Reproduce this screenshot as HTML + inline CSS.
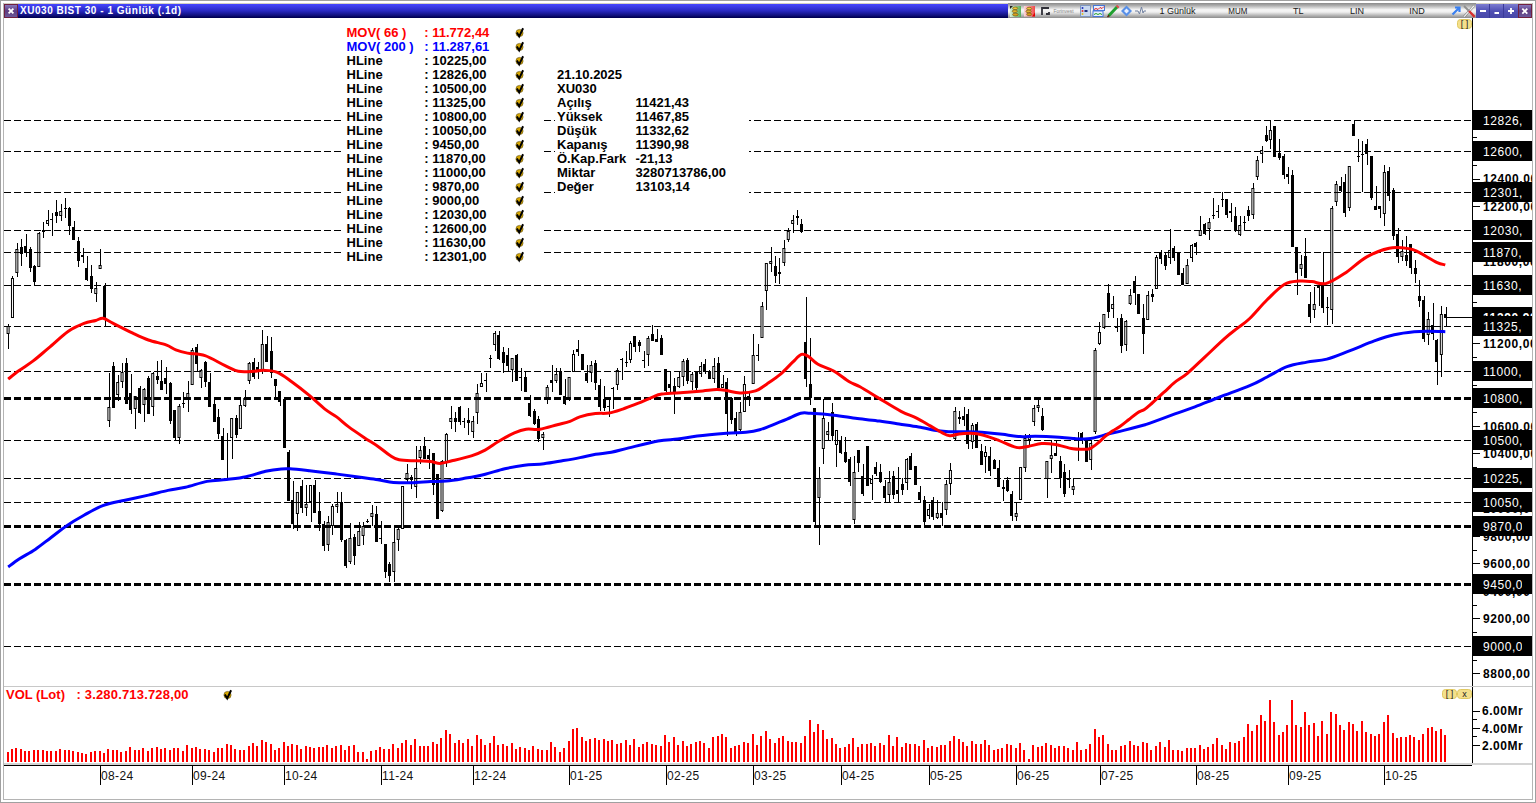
<!DOCTYPE html>
<html><head><meta charset="utf-8"><title>XU030</title>
<style>
html,body{margin:0;padding:0;background:#fff;}
body{width:1536px;height:803px;overflow:hidden;position:relative;}
svg.main{position:absolute;left:0;top:0;}
</style></head><body>
<svg class="main" width="1536" height="803" viewBox="0 0 1536 803">
<rect x="0.5" y="0.5" width="1535" height="802" fill="none" stroke="#a0a0a0"/>
<rect x="3" y="3" width="1530" height="1" fill="#d4d0c4"/>
<rect x="3" y="3" width="1" height="797" fill="#b4b4b4"/>
<rect x="1532" y="3" width="1" height="797" fill="#b4b4b4"/>
<rect x="3" y="799" width="1530" height="1" fill="#b4b4b4"/>
<g fill="#000" shape-rendering="crispEdges"><rect x="8" y="324" width="1" height="2"/><rect x="8" y="334" width="1" height="15"/><rect x="12" y="276" width="1" height="2"/><rect x="17" y="243" width="1" height="6"/><rect x="17" y="273" width="1" height="4"/><rect x="21" y="239" width="1" height="27"/><rect x="20" y="247" width="3" height="7"/><rect x="26" y="234" width="1" height="23"/><rect x="24" y="246" width="3" height="7"/><rect x="30" y="247" width="1" height="25"/><rect x="29" y="249" width="3" height="19"/><rect x="34" y="265" width="1" height="20"/><rect x="33" y="266" width="3" height="16"/><rect x="39" y="232" width="1" height="1"/><rect x="43" y="222" width="1" height="16"/><rect x="42" y="230" width="3" height="2"/><rect x="48" y="210" width="1" height="10"/><rect x="48" y="224" width="1" height="2"/><rect x="52" y="213" width="1" height="23"/><rect x="50" y="219" width="3" height="1"/><rect x="56" y="200" width="1" height="23"/><rect x="55" y="212" width="3" height="4"/><rect x="61" y="204" width="1" height="7"/><rect x="61" y="216" width="1" height="5"/><rect x="65" y="198" width="1" height="20"/><rect x="64" y="208" width="3" height="1"/><rect x="69" y="207" width="1" height="28"/><rect x="68" y="208" width="3" height="18"/><rect x="74" y="221" width="1" height="19"/><rect x="72" y="227" width="3" height="13"/><rect x="78" y="237" width="1" height="30"/><rect x="77" y="241" width="3" height="20"/><rect x="83" y="248" width="1" height="15"/><rect x="81" y="255" width="3" height="2"/><rect x="87" y="256" width="1" height="25"/><rect x="85" y="268" width="3" height="12"/><rect x="91" y="265" width="1" height="28"/><rect x="90" y="276" width="3" height="13"/><rect x="96" y="282" width="1" height="6"/><rect x="96" y="294" width="1" height="8"/><rect x="100" y="249" width="1" height="16"/><rect x="105" y="283" width="1" height="43"/><rect x="103" y="286" width="3" height="32"/><rect x="109" y="373" width="1" height="34"/><rect x="109" y="421" width="1" height="6"/><rect x="113" y="362" width="1" height="46"/><rect x="112" y="366" width="3" height="42"/><rect x="118" y="375" width="1" height="7"/><rect x="118" y="395" width="1" height="6"/><rect x="122" y="363" width="1" height="9"/><rect x="122" y="382" width="1" height="6"/><rect x="126" y="358" width="1" height="46"/><rect x="125" y="363" width="3" height="41"/><rect x="131" y="374" width="1" height="40"/><rect x="129" y="393" width="3" height="17"/><rect x="135" y="409" width="1" height="20"/><rect x="140" y="386" width="1" height="28"/><rect x="138" y="388" width="3" height="25"/><rect x="144" y="388" width="1" height="1"/><rect x="144" y="405" width="1" height="17"/><rect x="148" y="376" width="1" height="38"/><rect x="147" y="378" width="3" height="36"/><rect x="153" y="372" width="1" height="1"/><rect x="153" y="407" width="1" height="9"/><rect x="157" y="361" width="1" height="23"/><rect x="156" y="376" width="3" height="4"/><rect x="161" y="360" width="1" height="30"/><rect x="160" y="381" width="3" height="9"/><rect x="166" y="367" width="1" height="27"/><rect x="164" y="378" width="3" height="6"/><rect x="170" y="382" width="1" height="42"/><rect x="169" y="383" width="3" height="38"/><rect x="175" y="410" width="1" height="30"/><rect x="173" y="410" width="3" height="28"/><rect x="179" y="404" width="1" height="2"/><rect x="179" y="438" width="1" height="6"/><rect x="183" y="392" width="1" height="16"/><rect x="182" y="403" width="3" height="1"/><rect x="188" y="381" width="1" height="12"/><rect x="188" y="400" width="1" height="12"/><rect x="192" y="348" width="1" height="2"/><rect x="197" y="344" width="1" height="27"/><rect x="195" y="347" width="3" height="17"/><rect x="201" y="369" width="1" height="1"/><rect x="201" y="378" width="1" height="10"/><rect x="205" y="361" width="1" height="26"/><rect x="204" y="362" width="3" height="20"/><rect x="210" y="373" width="1" height="34"/><rect x="208" y="382" width="3" height="25"/><rect x="214" y="399" width="1" height="23"/><rect x="213" y="404" width="3" height="18"/><rect x="218" y="409" width="1" height="30"/><rect x="217" y="417" width="3" height="17"/><rect x="223" y="428" width="1" height="32"/><rect x="221" y="436" width="3" height="24"/><rect x="227" y="433" width="1" height="45"/><rect x="226" y="440" width="3" height="1"/><rect x="232" y="438" width="1" height="21"/><rect x="236" y="415" width="1" height="23"/><rect x="235" y="418" width="3" height="17"/><rect x="240" y="400" width="1" height="5"/><rect x="245" y="390" width="1" height="8"/><rect x="245" y="406" width="1" height="1"/><rect x="249" y="362" width="1" height="1"/><rect x="249" y="381" width="1" height="3"/><rect x="254" y="358" width="1" height="21"/><rect x="252" y="362" width="3" height="15"/><rect x="258" y="362" width="1" height="17"/><rect x="256" y="367" width="3" height="4"/><rect x="262" y="330" width="1" height="14"/><rect x="262" y="371" width="1" height="3"/><rect x="267" y="336" width="1" height="26"/><rect x="265" y="344" width="3" height="18"/><rect x="271" y="337" width="1" height="41"/><rect x="270" y="351" width="3" height="22"/><rect x="275" y="379" width="1" height="19"/><rect x="274" y="379" width="3" height="7"/><rect x="280" y="391" width="1" height="15"/><rect x="278" y="391" width="3" height="11"/><rect x="284" y="399" width="1" height="49"/><rect x="283" y="399" width="3" height="49"/><rect x="289" y="450" width="1" height="51"/><rect x="287" y="452" width="3" height="49"/><rect x="293" y="481" width="1" height="48"/><rect x="291" y="500" width="3" height="24"/><rect x="297" y="514" width="1" height="17"/><rect x="302" y="480" width="1" height="33"/><rect x="300" y="486" width="3" height="22"/><rect x="306" y="485" width="1" height="19"/><rect x="306" y="508" width="1" height="8"/><rect x="311" y="502" width="1" height="20"/><rect x="315" y="480" width="1" height="33"/><rect x="313" y="485" width="3" height="28"/><rect x="319" y="492" width="1" height="39"/><rect x="318" y="511" width="3" height="13"/><rect x="324" y="521" width="1" height="30"/><rect x="322" y="524" width="3" height="22"/><rect x="328" y="516" width="1" height="6"/><rect x="328" y="545" width="1" height="6"/><rect x="332" y="504" width="1" height="2"/><rect x="332" y="526" width="1" height="9"/><rect x="337" y="492" width="1" height="12"/><rect x="337" y="507" width="1" height="6"/><rect x="341" y="492" width="1" height="50"/><rect x="340" y="502" width="3" height="38"/><rect x="346" y="539" width="1" height="29"/><rect x="344" y="540" width="3" height="26"/><rect x="350" y="523" width="1" height="15"/><rect x="350" y="562" width="1" height="2"/><rect x="354" y="534" width="1" height="31"/><rect x="353" y="537" width="3" height="19"/><rect x="359" y="522" width="1" height="9"/><rect x="363" y="522" width="1" height="4"/><rect x="363" y="536" width="1" height="9"/><rect x="367" y="519" width="1" height="4"/><rect x="366" y="521" width="3" height="1"/><rect x="372" y="505" width="1" height="8"/><rect x="372" y="517" width="1" height="9"/><rect x="376" y="506" width="1" height="36"/><rect x="375" y="514" width="3" height="28"/><rect x="381" y="521" width="1" height="23"/><rect x="379" y="538" width="3" height="1"/><rect x="385" y="544" width="1" height="34"/><rect x="384" y="544" width="3" height="28"/><rect x="389" y="562" width="1" height="20"/><rect x="388" y="564" width="3" height="12"/><rect x="394" y="528" width="1" height="14"/><rect x="394" y="572" width="1" height="10"/><rect x="398" y="528" width="1" height="1"/><rect x="398" y="540" width="1" height="11"/><rect x="407" y="464" width="1" height="9"/><rect x="407" y="480" width="1" height="3"/><rect x="411" y="475" width="1" height="14"/><rect x="410" y="477" width="3" height="3"/><rect x="416" y="446" width="1" height="22"/><rect x="416" y="487" width="1" height="11"/><rect x="420" y="446" width="1" height="4"/><rect x="420" y="458" width="1" height="6"/><rect x="424" y="437" width="1" height="22"/><rect x="423" y="446" width="3" height="13"/><rect x="429" y="449" width="1" height="20"/><rect x="427" y="455" width="3" height="4"/><rect x="433" y="453" width="1" height="42"/><rect x="432" y="453" width="3" height="32"/><rect x="438" y="474" width="1" height="45"/><rect x="436" y="474" width="3" height="45"/><rect x="442" y="460" width="1" height="1"/><rect x="442" y="511" width="1" height="1"/><rect x="446" y="433" width="1" height="1"/><rect x="446" y="463" width="1" height="4"/><rect x="451" y="406" width="1" height="12"/><rect x="451" y="422" width="1" height="7"/><rect x="455" y="412" width="1" height="20"/><rect x="454" y="418" width="3" height="4"/><rect x="460" y="406" width="1" height="19"/><rect x="458" y="407" width="3" height="15"/><rect x="464" y="418" width="1" height="10"/><rect x="462" y="421" width="3" height="1"/><rect x="468" y="408" width="1" height="27"/><rect x="467" y="420" width="3" height="3"/><rect x="473" y="416" width="1" height="5"/><rect x="473" y="432" width="1" height="6"/><rect x="477" y="384" width="1" height="9"/><rect x="477" y="413" width="1" height="11"/><rect x="481" y="373" width="1" height="10"/><rect x="486" y="373" width="1" height="19"/><rect x="484" y="380" width="3" height="1"/><rect x="490" y="355" width="1" height="13"/><rect x="489" y="358" width="3" height="1"/><rect x="495" y="331" width="1" height="2"/><rect x="495" y="345" width="1" height="6"/><rect x="499" y="331" width="1" height="29"/><rect x="497" y="335" width="3" height="24"/><rect x="503" y="347" width="1" height="26"/><rect x="502" y="352" width="3" height="11"/><rect x="508" y="348" width="1" height="23"/><rect x="506" y="355" width="3" height="11"/><rect x="512" y="370" width="1" height="12"/><rect x="517" y="354" width="1" height="27"/><rect x="515" y="355" width="3" height="26"/><rect x="521" y="368" width="1" height="23"/><rect x="519" y="377" width="3" height="1"/><rect x="525" y="371" width="1" height="21"/><rect x="524" y="377" width="3" height="15"/><rect x="530" y="395" width="1" height="22"/><rect x="528" y="403" width="3" height="13"/><rect x="534" y="409" width="1" height="16"/><rect x="533" y="411" width="3" height="13"/><rect x="538" y="416" width="1" height="26"/><rect x="537" y="419" width="3" height="20"/><rect x="543" y="432" width="1" height="2"/><rect x="543" y="438" width="1" height="12"/><rect x="547" y="385" width="1" height="2"/><rect x="547" y="399" width="1" height="5"/><rect x="552" y="365" width="1" height="27"/><rect x="550" y="380" width="3" height="3"/><rect x="556" y="368" width="1" height="6"/><rect x="556" y="381" width="1" height="2"/><rect x="560" y="368" width="1" height="27"/><rect x="559" y="371" width="3" height="24"/><rect x="565" y="379" width="1" height="26"/><rect x="563" y="396" width="3" height="8"/><rect x="569" y="399" width="1" height="2"/><rect x="573" y="350" width="1" height="4"/><rect x="578" y="340" width="1" height="16"/><rect x="576" y="349" width="3" height="3"/><rect x="582" y="354" width="1" height="16"/><rect x="581" y="354" width="3" height="16"/><rect x="587" y="365" width="1" height="18"/><rect x="585" y="373" width="3" height="8"/><rect x="591" y="361" width="1" height="4"/><rect x="591" y="373" width="1" height="9"/><rect x="595" y="360" width="1" height="30"/><rect x="594" y="363" width="3" height="20"/><rect x="600" y="379" width="1" height="32"/><rect x="598" y="385" width="3" height="22"/><rect x="604" y="386" width="1" height="25"/><rect x="603" y="399" width="3" height="9"/><rect x="609" y="397" width="1" height="20"/><rect x="607" y="406" width="3" height="1"/><rect x="613" y="387" width="1" height="22"/><rect x="611" y="388" width="3" height="1"/><rect x="617" y="368" width="1" height="2"/><rect x="617" y="385" width="1" height="5"/><rect x="622" y="358" width="1" height="22"/><rect x="620" y="359" width="3" height="1"/><rect x="626" y="351" width="1" height="16"/><rect x="625" y="362" width="3" height="1"/><rect x="630" y="341" width="1" height="2"/><rect x="630" y="360" width="1" height="3"/><rect x="635" y="336" width="1" height="16"/><rect x="633" y="336" width="3" height="11"/><rect x="639" y="340" width="1" height="12"/><rect x="638" y="342" width="3" height="4"/><rect x="644" y="351" width="1" height="17"/><rect x="642" y="360" width="3" height="1"/><rect x="648" y="336" width="1" height="2"/><rect x="648" y="355" width="1" height="11"/><rect x="652" y="325" width="1" height="16"/><rect x="651" y="334" width="3" height="7"/><rect x="657" y="329" width="1" height="13"/><rect x="655" y="339" width="3" height="3"/><rect x="661" y="335" width="1" height="20"/><rect x="660" y="338" width="3" height="17"/><rect x="666" y="369" width="1" height="23"/><rect x="664" y="369" width="3" height="22"/><rect x="670" y="371" width="1" height="21"/><rect x="668" y="384" width="3" height="4"/><rect x="674" y="378" width="1" height="36"/><rect x="673" y="386" width="3" height="8"/><rect x="679" y="372" width="1" height="5"/><rect x="679" y="387" width="1" height="1"/><rect x="683" y="359" width="1" height="2"/><rect x="683" y="377" width="1" height="9"/><rect x="687" y="358" width="1" height="26"/><rect x="686" y="360" width="3" height="21"/><rect x="692" y="372" width="1" height="2"/><rect x="692" y="382" width="1" height="8"/><rect x="696" y="371" width="1" height="19"/><rect x="695" y="372" width="3" height="16"/><rect x="701" y="362" width="1" height="4"/><rect x="701" y="374" width="1" height="3"/><rect x="705" y="359" width="1" height="15"/><rect x="703" y="364" width="3" height="8"/><rect x="709" y="370" width="1" height="9"/><rect x="708" y="371" width="3" height="8"/><rect x="714" y="358" width="1" height="8"/><rect x="714" y="379" width="1" height="4"/><rect x="718" y="357" width="1" height="31"/><rect x="717" y="363" width="3" height="25"/><rect x="723" y="375" width="1" height="9"/><rect x="727" y="378" width="1" height="58"/><rect x="725" y="382" width="3" height="32"/><rect x="731" y="397" width="1" height="27"/><rect x="730" y="398" width="3" height="22"/><rect x="736" y="412" width="1" height="24"/><rect x="734" y="418" width="3" height="14"/><rect x="740" y="402" width="1" height="10"/><rect x="740" y="430" width="1" height="1"/><rect x="744" y="376" width="1" height="8"/><rect x="749" y="393" width="1" height="13"/><rect x="747" y="396" width="3" height="4"/><rect x="753" y="334" width="1" height="21"/><rect x="758" y="344" width="1" height="17"/><rect x="756" y="355" width="3" height="1"/><rect x="762" y="302" width="1" height="4"/><rect x="766" y="291" width="1" height="19"/><rect x="771" y="247" width="1" height="14"/><rect x="771" y="264" width="1" height="8"/><rect x="775" y="256" width="1" height="27"/><rect x="774" y="266" width="3" height="10"/><rect x="779" y="258" width="1" height="26"/><rect x="778" y="272" width="3" height="2"/><rect x="784" y="240" width="1" height="8"/><rect x="784" y="263" width="1" height="3"/><rect x="788" y="228" width="1" height="3"/><rect x="788" y="240" width="1" height="2"/><rect x="793" y="215" width="1" height="5"/><rect x="793" y="224" width="1" height="9"/><rect x="797" y="210" width="1" height="15"/><rect x="796" y="216" width="3" height="2"/><rect x="801" y="219" width="1" height="14"/><rect x="800" y="224" width="3" height="8"/><rect x="806" y="297" width="1" height="90"/><rect x="804" y="342" width="3" height="37"/><rect x="810" y="338" width="1" height="67"/><rect x="809" y="384" width="3" height="14"/><rect x="815" y="408" width="1" height="118"/><rect x="813" y="408" width="3" height="114"/><rect x="819" y="467" width="1" height="11"/><rect x="819" y="498" width="1" height="47"/><rect x="823" y="399" width="1" height="19"/><rect x="823" y="449" width="1" height="15"/><rect x="828" y="422" width="1" height="9"/><rect x="828" y="435" width="1" height="6"/><rect x="832" y="403" width="1" height="38"/><rect x="831" y="412" width="3" height="24"/><rect x="836" y="445" width="1" height="22"/><rect x="841" y="436" width="1" height="18"/><rect x="839" y="440" width="3" height="13"/><rect x="845" y="437" width="1" height="26"/><rect x="844" y="452" width="3" height="10"/><rect x="850" y="457" width="1" height="29"/><rect x="848" y="459" width="3" height="23"/><rect x="854" y="456" width="1" height="16"/><rect x="854" y="520" width="1" height="4"/><rect x="858" y="450" width="1" height="22"/><rect x="857" y="450" width="3" height="13"/><rect x="863" y="464" width="1" height="32"/><rect x="861" y="476" width="3" height="18"/><rect x="867" y="446" width="1" height="40"/><rect x="866" y="446" width="3" height="40"/><rect x="872" y="475" width="1" height="4"/><rect x="872" y="484" width="1" height="16"/><rect x="876" y="462" width="1" height="14"/><rect x="874" y="467" width="3" height="7"/><rect x="880" y="464" width="1" height="19"/><rect x="879" y="472" width="3" height="10"/><rect x="885" y="480" width="1" height="22"/><rect x="883" y="486" width="3" height="12"/><rect x="889" y="471" width="1" height="11"/><rect x="889" y="495" width="1" height="7"/><rect x="893" y="471" width="1" height="28"/><rect x="892" y="476" width="3" height="19"/><rect x="898" y="467" width="1" height="36"/><rect x="896" y="490" width="3" height="4"/><rect x="902" y="478" width="1" height="17"/><rect x="901" y="484" width="3" height="6"/><rect x="907" y="458" width="1" height="1"/><rect x="907" y="483" width="1" height="7"/><rect x="911" y="453" width="1" height="17"/><rect x="909" y="456" width="3" height="14"/><rect x="915" y="466" width="1" height="19"/><rect x="914" y="466" width="3" height="19"/><rect x="920" y="486" width="1" height="16"/><rect x="918" y="492" width="3" height="8"/><rect x="924" y="496" width="1" height="30"/><rect x="923" y="500" width="3" height="22"/><rect x="929" y="504" width="1" height="5"/><rect x="929" y="516" width="1" height="3"/><rect x="933" y="497" width="1" height="23"/><rect x="931" y="500" width="3" height="17"/><rect x="937" y="500" width="1" height="13"/><rect x="937" y="518" width="1" height="1"/><rect x="942" y="502" width="1" height="24"/><rect x="940" y="513" width="3" height="5"/><rect x="946" y="480" width="1" height="4"/><rect x="946" y="510" width="1" height="5"/><rect x="950" y="463" width="1" height="7"/><rect x="950" y="484" width="1" height="11"/><rect x="955" y="407" width="1" height="4"/><rect x="955" y="439" width="1" height="1"/><rect x="959" y="411" width="1" height="13"/><rect x="958" y="417" width="3" height="2"/><rect x="964" y="407" width="1" height="19"/><rect x="962" y="416" width="3" height="4"/><rect x="968" y="409" width="1" height="40"/><rect x="966" y="414" width="3" height="30"/><rect x="972" y="423" width="1" height="2"/><rect x="972" y="442" width="1" height="7"/><rect x="977" y="422" width="1" height="26"/><rect x="975" y="424" width="3" height="24"/><rect x="981" y="444" width="1" height="21"/><rect x="980" y="451" width="3" height="14"/><rect x="985" y="446" width="1" height="6"/><rect x="985" y="457" width="1" height="16"/><rect x="990" y="447" width="1" height="29"/><rect x="988" y="456" width="3" height="15"/><rect x="994" y="459" width="1" height="10"/><rect x="993" y="460" width="3" height="9"/><rect x="999" y="460" width="1" height="27"/><rect x="997" y="468" width="3" height="19"/><rect x="1003" y="480" width="1" height="21"/><rect x="1002" y="487" width="3" height="2"/><rect x="1007" y="477" width="1" height="15"/><rect x="1006" y="480" width="3" height="11"/><rect x="1012" y="491" width="1" height="30"/><rect x="1010" y="494" width="3" height="22"/><rect x="1016" y="502" width="1" height="11"/><rect x="1016" y="517" width="1" height="4"/><rect x="1025" y="434" width="1" height="4"/><rect x="1025" y="468" width="1" height="4"/><rect x="1029" y="434" width="1" height="1"/><rect x="1029" y="440" width="1" height="6"/><rect x="1034" y="405" width="1" height="3"/><rect x="1034" y="422" width="1" height="4"/><rect x="1038" y="398" width="1" height="7"/><rect x="1038" y="408" width="1" height="4"/><rect x="1042" y="408" width="1" height="23"/><rect x="1041" y="416" width="3" height="14"/><rect x="1047" y="479" width="1" height="19"/><rect x="1051" y="440" width="1" height="15"/><rect x="1051" y="459" width="1" height="14"/><rect x="1056" y="440" width="1" height="16"/><rect x="1054" y="453" width="3" height="3"/><rect x="1060" y="456" width="1" height="32"/><rect x="1059" y="461" width="3" height="17"/><rect x="1064" y="464" width="1" height="33"/><rect x="1063" y="472" width="3" height="22"/><rect x="1069" y="470" width="1" height="18"/><rect x="1067" y="478" width="3" height="2"/><rect x="1073" y="478" width="1" height="8"/><rect x="1073" y="490" width="1" height="5"/><rect x="1078" y="432" width="1" height="29"/><rect x="1076" y="438" width="3" height="2"/><rect x="1082" y="432" width="1" height="12"/><rect x="1080" y="433" width="3" height="8"/><rect x="1086" y="440" width="1" height="22"/><rect x="1085" y="440" width="3" height="22"/><rect x="1091" y="440" width="1" height="3"/><rect x="1091" y="460" width="1" height="10"/><rect x="1095" y="348" width="1" height="2"/><rect x="1095" y="432" width="1" height="2"/><rect x="1099" y="322" width="1" height="10"/><rect x="1099" y="344" width="1" height="1"/><rect x="1104" y="328" width="1" height="1"/><rect x="1108" y="284" width="1" height="34"/><rect x="1107" y="293" width="3" height="19"/><rect x="1113" y="296" width="1" height="8"/><rect x="1113" y="309" width="1" height="9"/><rect x="1117" y="318" width="1" height="14"/><rect x="1115" y="326" width="3" height="2"/><rect x="1121" y="314" width="1" height="39"/><rect x="1120" y="318" width="3" height="28"/><rect x="1126" y="320" width="1" height="1"/><rect x="1126" y="345" width="1" height="6"/><rect x="1130" y="289" width="1" height="6"/><rect x="1130" y="304" width="1" height="1"/><rect x="1135" y="276" width="1" height="29"/><rect x="1133" y="281" width="3" height="12"/><rect x="1139" y="294" width="1" height="20"/><rect x="1137" y="294" width="3" height="20"/><rect x="1143" y="304" width="1" height="50"/><rect x="1142" y="318" width="3" height="16"/><rect x="1148" y="291" width="1" height="4"/><rect x="1152" y="289" width="1" height="13"/><rect x="1151" y="294" width="3" height="3"/><rect x="1156" y="255" width="1" height="2"/><rect x="1161" y="250" width="1" height="14"/><rect x="1159" y="253" width="3" height="6"/><rect x="1165" y="252" width="1" height="18"/><rect x="1164" y="255" width="3" height="11"/><rect x="1170" y="229" width="1" height="21"/><rect x="1170" y="258" width="1" height="6"/><rect x="1174" y="246" width="1" height="15"/><rect x="1172" y="248" width="3" height="10"/><rect x="1178" y="252" width="1" height="23"/><rect x="1177" y="252" width="3" height="23"/><rect x="1183" y="268" width="1" height="17"/><rect x="1181" y="273" width="3" height="12"/><rect x="1187" y="259" width="1" height="6"/><rect x="1192" y="244" width="1" height="1"/><rect x="1192" y="258" width="1" height="4"/><rect x="1196" y="242" width="1" height="13"/><rect x="1194" y="243" width="3" height="4"/><rect x="1200" y="216" width="1" height="14"/><rect x="1205" y="223" width="1" height="12"/><rect x="1203" y="224" width="3" height="10"/><rect x="1209" y="218" width="1" height="4"/><rect x="1209" y="229" width="1" height="11"/><rect x="1213" y="198" width="1" height="21"/><rect x="1212" y="215" width="3" height="1"/><rect x="1218" y="205" width="1" height="13"/><rect x="1216" y="211" width="3" height="1"/><rect x="1222" y="192" width="1" height="15"/><rect x="1221" y="199" width="3" height="1"/><rect x="1227" y="199" width="1" height="19"/><rect x="1225" y="199" width="3" height="16"/><rect x="1231" y="203" width="1" height="19"/><rect x="1229" y="211" width="3" height="2"/><rect x="1235" y="207" width="1" height="25"/><rect x="1234" y="216" width="3" height="15"/><rect x="1240" y="216" width="1" height="9"/><rect x="1240" y="235" width="1" height="1"/><rect x="1244" y="216" width="1" height="14"/><rect x="1243" y="222" width="3" height="1"/><rect x="1248" y="206" width="1" height="15"/><rect x="1247" y="210" width="3" height="6"/><rect x="1253" y="183" width="1" height="5"/><rect x="1253" y="215" width="1" height="4"/><rect x="1257" y="156" width="1" height="4"/><rect x="1257" y="177" width="1" height="3"/><rect x="1262" y="146" width="1" height="4"/><rect x="1262" y="154" width="1" height="9"/><rect x="1266" y="126" width="1" height="16"/><rect x="1265" y="135" width="3" height="6"/><rect x="1270" y="120" width="1" height="10"/><rect x="1270" y="140" width="1" height="9"/><rect x="1275" y="126" width="1" height="31"/><rect x="1273" y="126" width="3" height="31"/><rect x="1279" y="139" width="1" height="21"/><rect x="1278" y="153" width="3" height="5"/><rect x="1284" y="154" width="1" height="25"/><rect x="1282" y="156" width="3" height="19"/><rect x="1288" y="167" width="1" height="17"/><rect x="1286" y="174" width="3" height="3"/><rect x="1292" y="170" width="1" height="77"/><rect x="1291" y="175" width="3" height="72"/><rect x="1297" y="247" width="1" height="48"/><rect x="1295" y="247" width="3" height="26"/><rect x="1301" y="255" width="1" height="9"/><rect x="1301" y="269" width="1" height="7"/><rect x="1305" y="238" width="1" height="40"/><rect x="1304" y="256" width="3" height="22"/><rect x="1310" y="292" width="1" height="31"/><rect x="1308" y="304" width="3" height="13"/><rect x="1314" y="287" width="1" height="17"/><rect x="1314" y="310" width="1" height="8"/><rect x="1319" y="284" width="1" height="22"/><rect x="1317" y="286" width="3" height="2"/><rect x="1323" y="252" width="1" height="61"/><rect x="1321" y="285" width="3" height="23"/><rect x="1327" y="297" width="1" height="28"/><rect x="1326" y="307" width="3" height="1"/><rect x="1332" y="206" width="1" height="2"/><rect x="1332" y="310" width="1" height="14"/><rect x="1336" y="181" width="1" height="3"/><rect x="1336" y="202" width="1" height="4"/><rect x="1341" y="177" width="1" height="15"/><rect x="1339" y="186" width="3" height="5"/><rect x="1345" y="174" width="1" height="43"/><rect x="1343" y="182" width="3" height="31"/><rect x="1349" y="208" width="1" height="3"/><rect x="1354" y="120" width="1" height="16"/><rect x="1352" y="124" width="3" height="12"/><rect x="1358" y="139" width="1" height="23"/><rect x="1357" y="156" width="3" height="1"/><rect x="1362" y="141" width="1" height="51"/><rect x="1361" y="154" width="3" height="1"/><rect x="1367" y="139" width="1" height="26"/><rect x="1365" y="144" width="3" height="10"/><rect x="1371" y="156" width="1" height="44"/><rect x="1370" y="156" width="3" height="42"/><rect x="1376" y="186" width="1" height="24"/><rect x="1374" y="206" width="3" height="4"/><rect x="1380" y="206" width="1" height="12"/><rect x="1378" y="206" width="3" height="3"/><rect x="1384" y="165" width="1" height="7"/><rect x="1384" y="214" width="1" height="12"/><rect x="1389" y="167" width="1" height="34"/><rect x="1387" y="171" width="3" height="25"/><rect x="1393" y="188" width="1" height="52"/><rect x="1392" y="190" width="3" height="46"/><rect x="1398" y="228" width="1" height="35"/><rect x="1396" y="234" width="3" height="23"/><rect x="1402" y="240" width="1" height="11"/><rect x="1402" y="257" width="1" height="4"/><rect x="1406" y="236" width="1" height="30"/><rect x="1405" y="255" width="3" height="6"/><rect x="1411" y="244" width="1" height="30"/><rect x="1409" y="244" width="3" height="24"/><rect x="1415" y="260" width="1" height="23"/><rect x="1414" y="268" width="3" height="6"/><rect x="1419" y="280" width="1" height="27"/><rect x="1418" y="296" width="3" height="5"/><rect x="1424" y="296" width="1" height="46"/><rect x="1422" y="300" width="3" height="39"/><rect x="1428" y="312" width="1" height="7"/><rect x="1428" y="335" width="1" height="10"/><rect x="1433" y="303" width="1" height="37"/><rect x="1431" y="325" width="3" height="9"/><rect x="1437" y="339" width="1" height="46"/><rect x="1435" y="340" width="3" height="22"/><rect x="1441" y="306" width="1" height="8"/><rect x="1441" y="355" width="1" height="22"/><rect x="1446" y="307" width="1" height="19"/><rect x="1444" y="314" width="3" height="4"/></g>
<g><rect x="6.59" y="326" width="3" height="8" fill="#000"/><rect x="7.59" y="327" width="1" height="6" fill="#fff"/><rect x="10.97" y="278" width="3" height="40" fill="#000"/><rect x="11.97" y="279" width="1" height="38" fill="#fff"/><rect x="15.36" y="249" width="3" height="24" fill="#000"/><rect x="16.36" y="250" width="1" height="22" fill="#fff"/><rect x="37.27" y="233" width="3" height="34" fill="#000"/><rect x="38.27" y="234" width="1" height="32" fill="#fff"/><rect x="46.04" y="220" width="3" height="4" fill="#000"/><rect x="47.04" y="221" width="1" height="2" fill="#fff"/><rect x="59.19" y="211" width="3" height="5" fill="#000"/><rect x="60.19" y="212" width="1" height="3" fill="#fff"/><rect x="94.25" y="288" width="3" height="6" fill="#000"/><rect x="95.25" y="289" width="1" height="4" fill="#fff"/><rect x="98.63" y="265" width="3" height="4" fill="#000"/><rect x="99.63" y="266" width="1" height="2" fill="#fff"/><rect x="107.40" y="407" width="3" height="14" fill="#000"/><rect x="108.40" y="408" width="1" height="12" fill="#fff"/><rect x="116.17" y="382" width="3" height="13" fill="#000"/><rect x="117.17" y="383" width="1" height="11" fill="#fff"/><rect x="120.55" y="372" width="3" height="10" fill="#000"/><rect x="121.55" y="373" width="1" height="8" fill="#fff"/><rect x="133.70" y="396" width="3" height="13" fill="#000"/><rect x="134.70" y="397" width="1" height="11" fill="#fff"/><rect x="142.46" y="389" width="3" height="16" fill="#000"/><rect x="143.46" y="390" width="1" height="14" fill="#fff"/><rect x="151.23" y="373" width="3" height="34" fill="#000"/><rect x="152.23" y="374" width="1" height="32" fill="#fff"/><rect x="177.53" y="406" width="3" height="32" fill="#000"/><rect x="178.53" y="407" width="1" height="30" fill="#fff"/><rect x="186.29" y="393" width="3" height="7" fill="#000"/><rect x="187.29" y="394" width="1" height="5" fill="#fff"/><rect x="190.68" y="350" width="3" height="35" fill="#000"/><rect x="191.68" y="351" width="1" height="33" fill="#fff"/><rect x="199.44" y="370" width="3" height="8" fill="#000"/><rect x="200.44" y="371" width="1" height="6" fill="#fff"/><rect x="230.12" y="418" width="3" height="20" fill="#000"/><rect x="231.12" y="419" width="1" height="18" fill="#fff"/><rect x="238.89" y="405" width="3" height="24" fill="#000"/><rect x="239.89" y="406" width="1" height="22" fill="#fff"/><rect x="243.27" y="398" width="3" height="8" fill="#000"/><rect x="244.27" y="399" width="1" height="6" fill="#fff"/><rect x="247.66" y="363" width="3" height="18" fill="#000"/><rect x="248.66" y="364" width="1" height="16" fill="#fff"/><rect x="260.80" y="344" width="3" height="27" fill="#000"/><rect x="261.80" y="345" width="1" height="25" fill="#fff"/><rect x="295.87" y="492" width="3" height="22" fill="#000"/><rect x="296.87" y="493" width="1" height="20" fill="#fff"/><rect x="304.63" y="504" width="3" height="4" fill="#000"/><rect x="305.63" y="505" width="1" height="2" fill="#fff"/><rect x="309.02" y="485" width="3" height="17" fill="#000"/><rect x="310.02" y="486" width="1" height="15" fill="#fff"/><rect x="326.55" y="522" width="3" height="23" fill="#000"/><rect x="327.55" y="523" width="1" height="21" fill="#fff"/><rect x="330.93" y="506" width="3" height="20" fill="#000"/><rect x="331.93" y="507" width="1" height="18" fill="#fff"/><rect x="335.31" y="504" width="3" height="3" fill="#000"/><rect x="336.31" y="505" width="1" height="1" fill="#fff"/><rect x="348.46" y="538" width="3" height="24" fill="#000"/><rect x="349.46" y="539" width="1" height="22" fill="#fff"/><rect x="357.23" y="531" width="3" height="15" fill="#000"/><rect x="358.23" y="532" width="1" height="13" fill="#fff"/><rect x="361.61" y="526" width="3" height="10" fill="#000"/><rect x="362.61" y="527" width="1" height="8" fill="#fff"/><rect x="370.38" y="513" width="3" height="4" fill="#000"/><rect x="371.38" y="514" width="1" height="2" fill="#fff"/><rect x="392.29" y="542" width="3" height="30" fill="#000"/><rect x="393.29" y="543" width="1" height="28" fill="#fff"/><rect x="396.68" y="529" width="3" height="11" fill="#000"/><rect x="397.68" y="530" width="1" height="9" fill="#fff"/><rect x="401.06" y="486" width="3" height="43" fill="#000"/><rect x="402.06" y="487" width="1" height="41" fill="#fff"/><rect x="405.44" y="473" width="3" height="7" fill="#000"/><rect x="406.44" y="474" width="1" height="5" fill="#fff"/><rect x="414.21" y="468" width="3" height="19" fill="#000"/><rect x="415.21" y="469" width="1" height="17" fill="#fff"/><rect x="418.59" y="450" width="3" height="8" fill="#000"/><rect x="419.59" y="451" width="1" height="6" fill="#fff"/><rect x="440.51" y="461" width="3" height="50" fill="#000"/><rect x="441.51" y="462" width="1" height="48" fill="#fff"/><rect x="444.89" y="434" width="3" height="29" fill="#000"/><rect x="445.89" y="435" width="1" height="27" fill="#fff"/><rect x="449.27" y="418" width="3" height="4" fill="#000"/><rect x="450.27" y="419" width="1" height="2" fill="#fff"/><rect x="471.19" y="421" width="3" height="11" fill="#000"/><rect x="472.19" y="422" width="1" height="9" fill="#fff"/><rect x="475.57" y="393" width="3" height="20" fill="#000"/><rect x="476.57" y="394" width="1" height="18" fill="#fff"/><rect x="479.95" y="383" width="3" height="4" fill="#000"/><rect x="480.95" y="384" width="1" height="2" fill="#fff"/><rect x="493.10" y="333" width="3" height="12" fill="#000"/><rect x="494.10" y="334" width="1" height="10" fill="#fff"/><rect x="510.63" y="358" width="3" height="12" fill="#000"/><rect x="511.63" y="359" width="1" height="10" fill="#fff"/><rect x="541.32" y="434" width="3" height="4" fill="#000"/><rect x="542.32" y="435" width="1" height="2" fill="#fff"/><rect x="545.70" y="387" width="3" height="12" fill="#000"/><rect x="546.70" y="388" width="1" height="10" fill="#fff"/><rect x="554.47" y="374" width="3" height="7" fill="#000"/><rect x="555.47" y="375" width="1" height="5" fill="#fff"/><rect x="567.61" y="377" width="3" height="22" fill="#000"/><rect x="568.61" y="378" width="1" height="20" fill="#fff"/><rect x="572.00" y="354" width="3" height="18" fill="#000"/><rect x="573.00" y="355" width="1" height="16" fill="#fff"/><rect x="589.53" y="365" width="3" height="8" fill="#000"/><rect x="590.53" y="366" width="1" height="6" fill="#fff"/><rect x="615.83" y="370" width="3" height="15" fill="#000"/><rect x="616.83" y="371" width="1" height="13" fill="#fff"/><rect x="628.98" y="343" width="3" height="17" fill="#000"/><rect x="629.98" y="344" width="1" height="15" fill="#fff"/><rect x="646.51" y="338" width="3" height="17" fill="#000"/><rect x="647.51" y="339" width="1" height="15" fill="#fff"/><rect x="677.19" y="377" width="3" height="10" fill="#000"/><rect x="678.19" y="378" width="1" height="8" fill="#fff"/><rect x="681.57" y="361" width="3" height="16" fill="#000"/><rect x="682.57" y="362" width="1" height="14" fill="#fff"/><rect x="690.34" y="374" width="3" height="8" fill="#000"/><rect x="691.34" y="375" width="1" height="6" fill="#fff"/><rect x="699.10" y="366" width="3" height="8" fill="#000"/><rect x="700.10" y="367" width="1" height="6" fill="#fff"/><rect x="712.25" y="366" width="3" height="13" fill="#000"/><rect x="713.25" y="367" width="1" height="11" fill="#fff"/><rect x="721.02" y="384" width="3" height="4" fill="#000"/><rect x="722.02" y="385" width="1" height="2" fill="#fff"/><rect x="738.55" y="412" width="3" height="18" fill="#000"/><rect x="739.55" y="413" width="1" height="16" fill="#fff"/><rect x="742.93" y="384" width="3" height="28" fill="#000"/><rect x="743.93" y="385" width="1" height="26" fill="#fff"/><rect x="751.70" y="355" width="3" height="29" fill="#000"/><rect x="752.70" y="356" width="1" height="27" fill="#fff"/><rect x="760.47" y="306" width="3" height="32" fill="#000"/><rect x="761.47" y="307" width="1" height="30" fill="#fff"/><rect x="764.85" y="263" width="3" height="28" fill="#000"/><rect x="765.85" y="264" width="1" height="26" fill="#fff"/><rect x="769.23" y="261" width="3" height="3" fill="#000"/><rect x="770.23" y="262" width="1" height="1" fill="#fff"/><rect x="782.38" y="248" width="3" height="15" fill="#000"/><rect x="783.38" y="249" width="1" height="13" fill="#fff"/><rect x="786.76" y="231" width="3" height="9" fill="#000"/><rect x="787.76" y="232" width="1" height="7" fill="#fff"/><rect x="791.15" y="220" width="3" height="4" fill="#000"/><rect x="792.15" y="221" width="1" height="2" fill="#fff"/><rect x="817.45" y="478" width="3" height="20" fill="#000"/><rect x="818.45" y="479" width="1" height="18" fill="#fff"/><rect x="821.83" y="418" width="3" height="31" fill="#000"/><rect x="822.83" y="419" width="1" height="29" fill="#fff"/><rect x="826.21" y="431" width="3" height="4" fill="#000"/><rect x="827.21" y="432" width="1" height="2" fill="#fff"/><rect x="834.98" y="430" width="3" height="15" fill="#000"/><rect x="835.98" y="431" width="1" height="13" fill="#fff"/><rect x="852.51" y="472" width="3" height="48" fill="#000"/><rect x="853.51" y="473" width="1" height="46" fill="#fff"/><rect x="870.04" y="479" width="3" height="5" fill="#000"/><rect x="871.04" y="480" width="1" height="3" fill="#fff"/><rect x="887.57" y="482" width="3" height="13" fill="#000"/><rect x="888.57" y="483" width="1" height="11" fill="#fff"/><rect x="905.11" y="459" width="3" height="24" fill="#000"/><rect x="906.11" y="460" width="1" height="22" fill="#fff"/><rect x="927.02" y="509" width="3" height="7" fill="#000"/><rect x="928.02" y="510" width="1" height="5" fill="#fff"/><rect x="935.79" y="513" width="3" height="5" fill="#000"/><rect x="936.79" y="514" width="1" height="3" fill="#fff"/><rect x="944.55" y="484" width="3" height="26" fill="#000"/><rect x="945.55" y="485" width="1" height="24" fill="#fff"/><rect x="948.94" y="470" width="3" height="14" fill="#000"/><rect x="949.94" y="471" width="1" height="12" fill="#fff"/><rect x="953.32" y="411" width="3" height="28" fill="#000"/><rect x="954.32" y="412" width="1" height="26" fill="#fff"/><rect x="970.85" y="425" width="3" height="17" fill="#000"/><rect x="971.85" y="426" width="1" height="15" fill="#fff"/><rect x="984.00" y="452" width="3" height="5" fill="#000"/><rect x="985.00" y="453" width="1" height="3" fill="#fff"/><rect x="1014.68" y="513" width="3" height="4" fill="#000"/><rect x="1015.68" y="514" width="1" height="2" fill="#fff"/><rect x="1019.06" y="467" width="3" height="33" fill="#000"/><rect x="1020.06" y="468" width="1" height="31" fill="#fff"/><rect x="1023.45" y="438" width="3" height="30" fill="#000"/><rect x="1024.45" y="439" width="1" height="28" fill="#fff"/><rect x="1027.83" y="435" width="3" height="5" fill="#000"/><rect x="1028.83" y="436" width="1" height="3" fill="#fff"/><rect x="1032.21" y="408" width="3" height="14" fill="#000"/><rect x="1033.21" y="409" width="1" height="12" fill="#fff"/><rect x="1036.60" y="405" width="3" height="3" fill="#000"/><rect x="1037.60" y="406" width="1" height="1" fill="#fff"/><rect x="1045.36" y="461" width="3" height="18" fill="#000"/><rect x="1046.36" y="462" width="1" height="16" fill="#fff"/><rect x="1049.74" y="455" width="3" height="4" fill="#000"/><rect x="1050.74" y="456" width="1" height="2" fill="#fff"/><rect x="1071.66" y="486" width="3" height="4" fill="#000"/><rect x="1072.66" y="487" width="1" height="2" fill="#fff"/><rect x="1089.19" y="443" width="3" height="17" fill="#000"/><rect x="1090.19" y="444" width="1" height="15" fill="#fff"/><rect x="1093.57" y="350" width="3" height="82" fill="#000"/><rect x="1094.57" y="351" width="1" height="80" fill="#fff"/><rect x="1097.96" y="332" width="3" height="12" fill="#000"/><rect x="1098.96" y="333" width="1" height="10" fill="#fff"/><rect x="1102.34" y="314" width="3" height="14" fill="#000"/><rect x="1103.34" y="315" width="1" height="12" fill="#fff"/><rect x="1111.11" y="304" width="3" height="5" fill="#000"/><rect x="1112.11" y="305" width="1" height="3" fill="#fff"/><rect x="1124.25" y="321" width="3" height="24" fill="#000"/><rect x="1125.25" y="322" width="1" height="22" fill="#fff"/><rect x="1128.64" y="295" width="3" height="9" fill="#000"/><rect x="1129.64" y="296" width="1" height="7" fill="#fff"/><rect x="1146.17" y="295" width="3" height="25" fill="#000"/><rect x="1147.17" y="296" width="1" height="23" fill="#fff"/><rect x="1154.94" y="257" width="3" height="32" fill="#000"/><rect x="1155.94" y="258" width="1" height="30" fill="#fff"/><rect x="1168.08" y="250" width="3" height="8" fill="#000"/><rect x="1169.08" y="251" width="1" height="6" fill="#fff"/><rect x="1185.62" y="265" width="3" height="19" fill="#000"/><rect x="1186.62" y="266" width="1" height="17" fill="#fff"/><rect x="1190.00" y="245" width="3" height="13" fill="#000"/><rect x="1191.00" y="246" width="1" height="11" fill="#fff"/><rect x="1198.77" y="230" width="3" height="6" fill="#000"/><rect x="1199.77" y="231" width="1" height="4" fill="#fff"/><rect x="1207.53" y="222" width="3" height="7" fill="#000"/><rect x="1208.53" y="223" width="1" height="5" fill="#fff"/><rect x="1238.21" y="225" width="3" height="10" fill="#000"/><rect x="1239.21" y="226" width="1" height="8" fill="#fff"/><rect x="1251.36" y="188" width="3" height="27" fill="#000"/><rect x="1252.36" y="189" width="1" height="25" fill="#fff"/><rect x="1255.74" y="160" width="3" height="17" fill="#000"/><rect x="1256.74" y="161" width="1" height="15" fill="#fff"/><rect x="1260.13" y="150" width="3" height="4" fill="#000"/><rect x="1261.13" y="151" width="1" height="2" fill="#fff"/><rect x="1268.89" y="130" width="3" height="10" fill="#000"/><rect x="1269.89" y="131" width="1" height="8" fill="#fff"/><rect x="1299.57" y="264" width="3" height="5" fill="#000"/><rect x="1300.57" y="265" width="1" height="3" fill="#fff"/><rect x="1312.72" y="304" width="3" height="6" fill="#000"/><rect x="1313.72" y="305" width="1" height="4" fill="#fff"/><rect x="1330.26" y="208" width="3" height="102" fill="#000"/><rect x="1331.26" y="209" width="1" height="100" fill="#fff"/><rect x="1334.64" y="184" width="3" height="18" fill="#000"/><rect x="1335.64" y="185" width="1" height="16" fill="#fff"/><rect x="1347.79" y="166" width="3" height="42" fill="#000"/><rect x="1348.79" y="167" width="1" height="40" fill="#fff"/><rect x="1382.85" y="172" width="3" height="42" fill="#000"/><rect x="1383.85" y="173" width="1" height="40" fill="#fff"/><rect x="1400.38" y="251" width="3" height="6" fill="#000"/><rect x="1401.38" y="252" width="1" height="4" fill="#fff"/><rect x="1426.68" y="319" width="3" height="16" fill="#000"/><rect x="1427.68" y="320" width="1" height="14" fill="#fff"/><rect x="1439.83" y="314" width="3" height="41" fill="#000"/><rect x="1440.83" y="315" width="1" height="39" fill="#fff"/></g>
<g stroke="#000" stroke-dasharray="7 3" shape-rendering="crispEdges"><line x1="4" y1="120.5" x2="1472" y2="120.5" stroke-width="1"/><line x1="4" y1="151.5" x2="1472" y2="151.5" stroke-width="1"/><line x1="4" y1="192.5" x2="1472" y2="192.5" stroke-width="1"/><line x1="4" y1="230.5" x2="1472" y2="230.5" stroke-width="1"/><line x1="4" y1="252.5" x2="1472" y2="252.5" stroke-width="1"/><line x1="4" y1="285.5" x2="1472" y2="285.5" stroke-width="1"/><line x1="4" y1="326.5" x2="1472" y2="326.5" stroke-width="1"/><line x1="4" y1="371.5" x2="1472" y2="371.5" stroke-width="1"/><line x1="4" y1="440.5" x2="1472" y2="440.5" stroke-width="1"/><line x1="4" y1="478.5" x2="1472" y2="478.5" stroke-width="1"/><line x1="4" y1="502.5" x2="1472" y2="502.5" stroke-width="1"/><line x1="4" y1="646.5" x2="1472" y2="646.5" stroke-width="1"/><line x1="4" y1="398.5" x2="1472" y2="398.5" stroke-width="3"/><line x1="4" y1="526.5" x2="1472" y2="526.5" stroke-width="3"/><line x1="4" y1="584.5" x2="1472" y2="584.5" stroke-width="3"/></g>
<rect x="342" y="22" width="202" height="244" fill="#fff"/>
<rect x="555" y="64" width="194" height="132" fill="#fff"/>
<path d="M8.2,567.0 C10.1,565.6 15.0,561.7 19.5,558.8 C24.0,555.9 30.0,552.9 35.2,549.4 C40.4,545.9 45.6,541.6 50.8,537.7 C56.0,533.8 60.9,529.6 66.4,525.9 C71.9,522.1 77.8,518.6 84.0,515.2 C90.2,511.8 96.7,507.9 103.5,505.4 C110.3,502.9 117.5,501.9 125.0,500.2 C132.5,498.5 141.2,496.7 148.4,495.1 C155.6,493.5 161.8,491.7 168.0,490.4 C174.2,489.1 179.0,488.8 185.5,487.3 C192.0,485.8 200.2,482.7 207.0,481.4 C213.8,480.1 220.1,480.3 226.6,479.5 C233.1,478.7 239.6,478.1 246.1,476.7 C252.6,475.3 259.7,472.6 265.6,471.3 C271.5,470.0 277.2,469.3 281.3,468.9 C285.4,468.5 285.3,468.5 290.0,468.8 C294.7,469.1 302.0,469.9 309.5,470.7 C317.0,471.5 326.8,472.7 334.9,473.8 C343.0,474.9 351.2,476.1 358.4,477.1 C365.6,478.1 372.0,478.8 377.9,479.7 C383.8,480.6 388.0,481.9 393.5,482.4 C399.0,482.9 404.9,482.9 411.1,482.8 C417.3,482.7 424.7,481.9 430.6,481.6 C436.5,481.3 440.4,481.7 446.3,481.1 C452.2,480.5 459.3,479.2 465.8,478.1 C472.3,477.0 478.8,475.8 485.3,474.2 C491.8,472.6 498.3,470.3 504.8,468.8 C511.3,467.3 517.9,466.1 524.4,465.3 C530.9,464.5 537.4,464.6 543.9,463.8 C550.4,463.0 557.4,461.6 563.4,460.6 C569.4,459.6 574.6,458.7 580.0,457.6 C585.4,456.6 590.4,455.2 595.6,454.3 C600.8,453.4 605.8,453.4 611.3,452.3 C616.8,451.2 621.0,449.8 628.8,447.9 C636.6,446.0 650.0,442.5 658.1,441.0 C666.2,439.5 671.2,439.9 677.7,439.1 C684.2,438.3 689.1,437.1 697.2,436.1 C705.3,435.1 718.4,433.9 726.5,433.2 C734.6,432.5 740.5,432.8 746.0,432.2 C751.5,431.6 754.8,431.1 759.7,429.7 C764.6,428.3 770.8,425.6 775.3,423.8 C779.8,422.0 782.8,420.9 787.0,419.1 C791.2,417.4 796.8,414.3 800.7,413.3 C804.6,412.3 805.0,413.0 810.5,413.3 C816.0,413.6 826.1,414.3 833.9,415.2 C841.7,416.1 849.7,417.6 857.3,418.6 C864.9,419.6 872.5,420.1 879.5,421.0 C886.5,421.9 892.5,422.9 899.0,423.9 C905.5,424.9 912.1,425.8 918.6,426.9 C925.1,428.0 932.9,430.0 938.1,430.8 C943.3,431.6 944.6,431.6 949.8,431.8 C955.0,432.0 963.2,431.7 969.4,431.8 C975.6,431.9 981.5,432.3 987.0,432.7 C992.5,433.1 997.1,433.6 1002.6,434.3 C1008.1,435.0 1014.7,436.3 1020.2,436.6 C1025.7,436.9 1030.0,436.2 1035.8,436.3 C1041.6,436.4 1048.8,436.6 1055.3,437.0 C1061.8,437.4 1068.9,438.3 1074.8,438.6 C1080.7,438.9 1085.6,439.2 1090.5,438.6 C1095.4,438.0 1098.6,436.5 1104.1,435.1 C1109.6,433.7 1117.2,432.0 1123.7,430.4 C1130.2,428.8 1138.8,426.5 1143.2,425.3 C1147.6,424.1 1144.7,425.0 1150.0,423.1 C1155.3,421.2 1167.4,416.6 1174.9,413.9 C1182.4,411.2 1187.4,409.7 1194.9,406.9 C1202.4,404.1 1210.7,400.5 1219.8,397.0 C1228.9,393.5 1241.8,389.0 1249.7,385.7 C1257.6,382.4 1260.9,380.2 1267.1,377.0 C1273.3,373.8 1280.3,369.1 1287.0,366.6 C1293.7,364.1 1300.3,363.4 1307.0,362.1 C1313.7,360.9 1319.8,361.0 1326.9,359.1 C1334.0,357.2 1341.5,353.9 1349.4,350.9 C1357.3,347.9 1366.8,343.6 1374.3,340.9 C1381.8,338.2 1387.5,336.2 1394.2,334.7 C1400.9,333.2 1408.4,332.3 1414.2,331.7 C1420.0,331.1 1423.9,331.2 1429.1,331.2 C1434.3,331.2 1442.6,331.6 1445.3,331.7" fill="none" stroke="#0000ff" stroke-width="3" stroke-linejoin="round"/>
<path d="M8.2,379.1 C10.1,377.6 15.3,373.3 19.5,370.3 C23.7,367.3 28.3,364.6 33.2,360.9 C38.1,357.2 42.9,352.8 48.8,347.9 C54.7,343.0 62.5,335.4 68.4,331.3 C74.3,327.2 79.5,325.2 84.0,323.4 C88.5,321.6 92.5,321.4 95.7,320.5 C98.9,319.6 100.2,317.7 103.1,318.2 C106.0,318.7 108.3,320.9 113.3,323.4 C118.2,325.9 127.0,330.4 132.8,333.2 C138.7,336.0 142.9,338.1 148.4,340.0 C153.9,341.9 161.4,343.3 166.0,344.9 C170.6,346.5 172.2,348.4 175.8,349.8 C179.4,351.2 182.6,352.1 187.5,353.1 C192.4,354.1 198.8,353.6 205.0,355.7 C211.2,357.8 219.0,362.8 224.6,365.4 C230.2,368.0 233.4,370.3 238.3,371.3 C243.2,372.3 249.7,371.5 253.9,371.3 C258.1,371.1 259.8,370.1 263.7,370.3 C267.6,370.5 272.6,370.4 277.3,372.3 C282.0,374.2 286.4,377.9 291.7,381.7 C297.0,385.5 303.8,390.8 309.3,395.4 C314.8,400.0 320.3,405.5 324.9,409.1 C329.4,412.7 332.7,414.0 336.6,416.9 C340.5,419.8 343.8,423.2 348.4,426.6 C353.0,430.0 359.1,434.1 364.0,437.4 C368.9,440.7 373.5,443.3 377.7,446.2 C381.9,449.1 385.8,452.7 389.4,455.0 C393.0,457.3 394.6,458.8 399.1,459.8 C403.7,460.8 411.5,460.5 416.7,460.8 C421.9,461.1 426.5,461.0 430.4,461.4 C434.3,461.8 436.6,463.5 440.2,463.4 C443.8,463.3 446.7,462.1 451.9,460.8 C457.1,459.6 465.9,457.7 471.4,455.9 C476.9,454.1 480.5,452.5 485.1,450.1 C489.7,447.7 493.9,444.2 498.8,441.3 C503.7,438.4 509.8,434.9 514.4,432.9 C518.9,430.9 521.9,429.8 526.1,429.2 C530.3,428.6 534.6,429.9 539.8,429.2 C545.0,428.4 552.3,426.0 557.3,424.7 C562.3,423.4 566.2,422.7 570.0,421.4 C573.8,420.1 575.6,418.2 579.8,416.9 C584.0,415.6 590.5,414.2 595.4,413.6 C600.3,413.0 604.5,413.8 609.1,413.0 C613.7,412.2 617.8,410.7 622.7,409.1 C627.6,407.5 633.5,405.1 638.4,403.2 C643.3,401.2 648.1,398.9 652.0,397.4 C655.9,395.9 656.6,394.9 661.8,394.1 C667.0,393.3 676.5,393.0 683.3,392.5 C690.1,392.0 697.3,391.4 702.8,390.9 C708.3,390.4 712.6,389.7 716.5,389.6 C720.4,389.5 722.4,389.9 726.3,390.5 C730.2,391.1 735.0,392.8 739.9,392.9 C744.8,393.0 750.9,392.4 755.5,390.9 C760.1,389.4 763.1,386.5 767.3,383.7 C771.5,380.9 776.7,377.5 780.9,373.9 C785.1,370.3 789.3,365.4 792.7,362.2 C796.1,358.9 798.8,355.4 801.4,354.4 C804.0,353.4 805.5,354.8 808.3,356.4 C811.1,358.0 813.8,361.8 818.0,364.2 C822.2,366.6 828.5,368.1 833.7,371.0 C838.9,373.9 844.9,379.2 849.3,381.8 C853.7,384.4 855.0,384.0 860.0,386.8 C865.0,389.6 872.7,394.5 879.5,398.6 C886.3,402.7 894.8,408.1 901.0,411.3 C907.2,414.6 911.7,415.7 916.6,418.1 C921.5,420.5 926.1,423.5 930.3,425.9 C934.5,428.3 938.8,431.1 942.0,432.7 C945.2,434.3 946.5,435.5 949.8,435.7 C953.1,435.9 957.0,434.0 961.6,433.7 C966.2,433.4 971.4,432.7 977.2,433.7 C983.1,434.7 990.2,437.3 996.7,439.6 C1003.2,441.9 1011.1,446.3 1016.3,447.4 C1021.5,448.5 1023.8,447.0 1028.0,446.4 C1032.2,445.8 1037.0,443.8 1041.6,443.5 C1046.1,443.2 1050.1,443.6 1055.3,444.5 C1060.5,445.4 1068.0,448.0 1072.9,448.8 C1077.9,449.6 1082.2,449.2 1085.0,449.2 C1087.8,449.2 1087.9,449.7 1090.0,448.7 C1092.1,447.7 1095.0,445.4 1097.5,443.4 C1100.0,441.4 1102.4,438.7 1104.9,436.6 C1107.4,434.5 1109.9,432.7 1112.4,431.0 C1114.9,429.3 1117.2,428.5 1119.9,426.6 C1122.6,424.7 1125.7,422.1 1128.6,419.8 C1131.5,417.5 1134.6,414.7 1137.3,412.9 C1140.0,411.1 1142.3,410.8 1144.8,409.2 C1147.3,407.6 1149.7,405.2 1152.2,403.0 C1154.7,400.8 1157.2,398.4 1159.7,396.1 C1162.2,393.8 1164.7,391.6 1167.2,389.3 C1169.7,387.0 1171.3,385.1 1174.7,382.4 C1178.1,379.7 1182.4,377.5 1187.4,373.3 C1192.4,369.1 1198.6,362.9 1204.8,357.1 C1211.0,351.3 1219.4,343.2 1224.8,338.4 C1230.2,333.6 1233.0,331.7 1237.2,328.4 C1241.4,325.1 1244.7,323.3 1249.7,318.5 C1254.7,313.7 1261.3,305.5 1267.1,299.8 C1272.9,294.1 1279.2,287.4 1284.6,284.3 C1290.0,281.2 1294.9,281.6 1299.5,281.1 C1304.1,280.7 1307.6,281.2 1312.0,281.6 C1316.4,282.0 1320.3,284.9 1325.7,283.6 C1331.1,282.3 1337.6,278.1 1344.4,273.6 C1351.2,269.2 1359.3,261.1 1366.8,256.9 C1374.3,252.7 1382.1,249.6 1389.2,248.2 C1396.3,246.8 1404.2,248.0 1409.2,248.7 C1414.2,249.4 1414.5,250.1 1419.1,252.4 C1423.7,254.7 1432.2,260.3 1436.6,262.4 C1441.0,264.5 1443.8,264.5 1445.3,264.9" fill="none" stroke="#ff0000" stroke-width="3" stroke-linejoin="round"/>
<rect x="1446" y="317" width="26" height="1" fill="#000"/>
<g shape-rendering="crispEdges"><rect x="1472" y="18" width="1" height="745" fill="#000"/><rect x="4" y="686" width="1528" height="1" fill="#c8c8c8"/><rect x="4" y="763" width="1528" height="2" fill="#d4d4d4"/><rect x="4" y="765" width="1468" height="1" fill="#000"/><rect x="1473" y="673" width="7" height="1" fill="#000"/><rect x="1473" y="660" width="4" height="1" fill="#000"/><rect x="1473" y="646" width="7" height="1" fill="#000"/><rect x="1473" y="632" width="4" height="1" fill="#000"/><rect x="1473" y="618" width="7" height="1" fill="#000"/><rect x="1473" y="605" width="4" height="1" fill="#000"/><rect x="1473" y="591" width="7" height="1" fill="#000"/><rect x="1473" y="577" width="4" height="1" fill="#000"/><rect x="1473" y="563" width="7" height="1" fill="#000"/><rect x="1473" y="550" width="4" height="1" fill="#000"/><rect x="1473" y="536" width="7" height="1" fill="#000"/><rect x="1473" y="522" width="4" height="1" fill="#000"/><rect x="1473" y="508" width="7" height="1" fill="#000"/><rect x="1473" y="495" width="4" height="1" fill="#000"/><rect x="1473" y="481" width="7" height="1" fill="#000"/><rect x="1473" y="467" width="4" height="1" fill="#000"/><rect x="1473" y="453" width="7" height="1" fill="#000"/><rect x="1473" y="440" width="4" height="1" fill="#000"/><rect x="1473" y="426" width="7" height="1" fill="#000"/><rect x="1473" y="412" width="4" height="1" fill="#000"/><rect x="1473" y="398" width="7" height="1" fill="#000"/><rect x="1473" y="385" width="4" height="1" fill="#000"/><rect x="1473" y="371" width="7" height="1" fill="#000"/><rect x="1473" y="357" width="4" height="1" fill="#000"/><rect x="1473" y="343" width="7" height="1" fill="#000"/><rect x="1473" y="330" width="4" height="1" fill="#000"/><rect x="1473" y="316" width="7" height="1" fill="#000"/><rect x="1473" y="302" width="4" height="1" fill="#000"/><rect x="1473" y="289" width="7" height="1" fill="#000"/><rect x="1473" y="275" width="4" height="1" fill="#000"/><rect x="1473" y="261" width="7" height="1" fill="#000"/><rect x="1473" y="247" width="4" height="1" fill="#000"/><rect x="1473" y="234" width="7" height="1" fill="#000"/><rect x="1473" y="220" width="4" height="1" fill="#000"/><rect x="1473" y="206" width="7" height="1" fill="#000"/><rect x="1473" y="192" width="4" height="1" fill="#000"/><rect x="1473" y="179" width="7" height="1" fill="#000"/><rect x="1473" y="165" width="4" height="1" fill="#000"/><rect x="1473" y="151" width="7" height="1" fill="#000"/><rect x="1473" y="137" width="4" height="1" fill="#000"/><rect x="1473" y="124" width="7" height="1" fill="#000"/><rect x="1473" y="711" width="7" height="1" fill="#000"/><rect x="1473" y="719" width="4" height="1" fill="#000"/><rect x="1473" y="728" width="7" height="1" fill="#000"/><rect x="1473" y="736" width="4" height="1" fill="#000"/><rect x="1473" y="745" width="7" height="1" fill="#000"/></g>
<g fill="#ff0000" shape-rendering="crispEdges"><rect x="7" y="752" width="2" height="10"/><rect x="11" y="749" width="2" height="13"/><rect x="15" y="748" width="2" height="14"/><rect x="20" y="749" width="2" height="13"/><rect x="24" y="751" width="2" height="11"/><rect x="28" y="751" width="2" height="11"/><rect x="33" y="750" width="2" height="12"/><rect x="37" y="750" width="2" height="12"/><rect x="42" y="750" width="2" height="12"/><rect x="46" y="751" width="2" height="11"/><rect x="50" y="751" width="2" height="11"/><rect x="55" y="751" width="2" height="11"/><rect x="59" y="749" width="2" height="13"/><rect x="64" y="750" width="2" height="12"/><rect x="68" y="750" width="2" height="12"/><rect x="72" y="751" width="2" height="11"/><rect x="77" y="752" width="2" height="10"/><rect x="81" y="753" width="2" height="9"/><rect x="85" y="754" width="2" height="8"/><rect x="90" y="752" width="2" height="10"/><rect x="94" y="751" width="2" height="11"/><rect x="99" y="751" width="2" height="11"/><rect x="103" y="753" width="2" height="9"/><rect x="107" y="749" width="2" height="13"/><rect x="112" y="750" width="2" height="12"/><rect x="116" y="750" width="2" height="12"/><rect x="120" y="752" width="2" height="10"/><rect x="125" y="751" width="2" height="11"/><rect x="129" y="747" width="2" height="15"/><rect x="134" y="750" width="2" height="12"/><rect x="138" y="750" width="2" height="12"/><rect x="142" y="748" width="2" height="14"/><rect x="147" y="751" width="2" height="11"/><rect x="151" y="748" width="2" height="14"/><rect x="156" y="747" width="2" height="15"/><rect x="160" y="749" width="2" height="13"/><rect x="164" y="748" width="2" height="14"/><rect x="169" y="750" width="2" height="12"/><rect x="173" y="748" width="2" height="14"/><rect x="177" y="748" width="2" height="14"/><rect x="182" y="751" width="2" height="11"/><rect x="186" y="745" width="2" height="17"/><rect x="191" y="748" width="2" height="14"/><rect x="195" y="747" width="2" height="15"/><rect x="199" y="749" width="2" height="13"/><rect x="204" y="749" width="2" height="13"/><rect x="208" y="750" width="2" height="12"/><rect x="213" y="752" width="2" height="10"/><rect x="217" y="748" width="2" height="14"/><rect x="221" y="748" width="2" height="14"/><rect x="226" y="744" width="2" height="18"/><rect x="230" y="745" width="2" height="17"/><rect x="234" y="749" width="2" height="13"/><rect x="239" y="750" width="2" height="12"/><rect x="243" y="750" width="2" height="12"/><rect x="248" y="746" width="2" height="16"/><rect x="252" y="743" width="2" height="19"/><rect x="256" y="746" width="2" height="16"/><rect x="261" y="740" width="2" height="22"/><rect x="265" y="742" width="2" height="20"/><rect x="270" y="744" width="2" height="18"/><rect x="274" y="750" width="2" height="12"/><rect x="278" y="748" width="2" height="14"/><rect x="283" y="742" width="2" height="20"/><rect x="287" y="746" width="2" height="16"/><rect x="291" y="744" width="2" height="18"/><rect x="296" y="745" width="2" height="17"/><rect x="300" y="749" width="2" height="13"/><rect x="305" y="746" width="2" height="16"/><rect x="309" y="747" width="2" height="15"/><rect x="313" y="748" width="2" height="14"/><rect x="318" y="747" width="2" height="15"/><rect x="322" y="747" width="2" height="15"/><rect x="326" y="745" width="2" height="17"/><rect x="331" y="748" width="2" height="14"/><rect x="335" y="746" width="2" height="16"/><rect x="340" y="745" width="2" height="17"/><rect x="344" y="750" width="2" height="12"/><rect x="348" y="746" width="2" height="16"/><rect x="353" y="745" width="2" height="17"/><rect x="357" y="752" width="2" height="10"/><rect x="362" y="752" width="2" height="10"/><rect x="366" y="759" width="2" height="3"/><rect x="370" y="751" width="2" height="11"/><rect x="375" y="750" width="2" height="12"/><rect x="379" y="747" width="2" height="15"/><rect x="383" y="749" width="2" height="13"/><rect x="388" y="749" width="2" height="13"/><rect x="392" y="744" width="2" height="18"/><rect x="397" y="748" width="2" height="14"/><rect x="401" y="743" width="2" height="19"/><rect x="405" y="740" width="2" height="22"/><rect x="410" y="745" width="2" height="17"/><rect x="414" y="739" width="2" height="23"/><rect x="419" y="746" width="2" height="16"/><rect x="423" y="746" width="2" height="16"/><rect x="427" y="746" width="2" height="16"/><rect x="432" y="742" width="2" height="20"/><rect x="436" y="744" width="2" height="18"/><rect x="440" y="738" width="2" height="24"/><rect x="445" y="730" width="2" height="32"/><rect x="449" y="734" width="2" height="28"/><rect x="454" y="743" width="2" height="19"/><rect x="458" y="740" width="2" height="22"/><rect x="462" y="743" width="2" height="19"/><rect x="467" y="739" width="2" height="23"/><rect x="471" y="746" width="2" height="16"/><rect x="476" y="735" width="2" height="27"/><rect x="480" y="739" width="2" height="23"/><rect x="484" y="745" width="2" height="17"/><rect x="489" y="743" width="2" height="19"/><rect x="493" y="736" width="2" height="26"/><rect x="497" y="745" width="2" height="17"/><rect x="502" y="744" width="2" height="18"/><rect x="506" y="746" width="2" height="16"/><rect x="511" y="743" width="2" height="19"/><rect x="515" y="749" width="2" height="13"/><rect x="519" y="747" width="2" height="15"/><rect x="524" y="748" width="2" height="14"/><rect x="528" y="750" width="2" height="12"/><rect x="532" y="746" width="2" height="16"/><rect x="537" y="749" width="2" height="13"/><rect x="541" y="750" width="2" height="12"/><rect x="546" y="750" width="2" height="12"/><rect x="550" y="742" width="2" height="20"/><rect x="554" y="747" width="2" height="15"/><rect x="559" y="752" width="2" height="10"/><rect x="563" y="748" width="2" height="14"/><rect x="568" y="741" width="2" height="21"/><rect x="572" y="729" width="2" height="33"/><rect x="576" y="728" width="2" height="34"/><rect x="581" y="737" width="2" height="25"/><rect x="585" y="741" width="2" height="21"/><rect x="589" y="739" width="2" height="23"/><rect x="594" y="738" width="2" height="24"/><rect x="598" y="740" width="2" height="22"/><rect x="603" y="739" width="2" height="23"/><rect x="607" y="741" width="2" height="21"/><rect x="611" y="740" width="2" height="22"/><rect x="616" y="744" width="2" height="18"/><rect x="620" y="743" width="2" height="19"/><rect x="625" y="740" width="2" height="22"/><rect x="629" y="745" width="2" height="17"/><rect x="633" y="739" width="2" height="23"/><rect x="638" y="747" width="2" height="15"/><rect x="642" y="744" width="2" height="18"/><rect x="646" y="742" width="2" height="20"/><rect x="651" y="744" width="2" height="18"/><rect x="655" y="745" width="2" height="17"/><rect x="660" y="746" width="2" height="16"/><rect x="664" y="735" width="2" height="27"/><rect x="668" y="742" width="2" height="20"/><rect x="673" y="737" width="2" height="25"/><rect x="677" y="745" width="2" height="17"/><rect x="682" y="741" width="2" height="21"/><rect x="686" y="746" width="2" height="16"/><rect x="690" y="744" width="2" height="18"/><rect x="695" y="742" width="2" height="20"/><rect x="699" y="741" width="2" height="21"/><rect x="703" y="743" width="2" height="19"/><rect x="708" y="748" width="2" height="14"/><rect x="712" y="737" width="2" height="25"/><rect x="717" y="736" width="2" height="26"/><rect x="721" y="734" width="2" height="28"/><rect x="725" y="737" width="2" height="25"/><rect x="730" y="748" width="2" height="14"/><rect x="734" y="746" width="2" height="16"/><rect x="738" y="745" width="2" height="17"/><rect x="743" y="742" width="2" height="20"/><rect x="747" y="743" width="2" height="19"/><rect x="752" y="734" width="2" height="28"/><rect x="756" y="745" width="2" height="17"/><rect x="760" y="736" width="2" height="26"/><rect x="765" y="731" width="2" height="31"/><rect x="769" y="739" width="2" height="23"/><rect x="774" y="743" width="2" height="19"/><rect x="778" y="738" width="2" height="24"/><rect x="782" y="736" width="2" height="26"/><rect x="787" y="741" width="2" height="21"/><rect x="791" y="742" width="2" height="20"/><rect x="795" y="742" width="2" height="20"/><rect x="800" y="743" width="2" height="19"/><rect x="804" y="736" width="2" height="26"/><rect x="809" y="720" width="2" height="42"/><rect x="813" y="732" width="2" height="30"/><rect x="817" y="724" width="2" height="38"/><rect x="822" y="730" width="2" height="32"/><rect x="826" y="739" width="2" height="23"/><rect x="831" y="738" width="2" height="24"/><rect x="835" y="744" width="2" height="18"/><rect x="839" y="748" width="2" height="14"/><rect x="844" y="747" width="2" height="15"/><rect x="848" y="744" width="2" height="18"/><rect x="852" y="738" width="2" height="24"/><rect x="857" y="747" width="2" height="15"/><rect x="861" y="744" width="2" height="18"/><rect x="866" y="744" width="2" height="18"/><rect x="870" y="743" width="2" height="19"/><rect x="874" y="746" width="2" height="16"/><rect x="879" y="743" width="2" height="19"/><rect x="883" y="745" width="2" height="17"/><rect x="888" y="735" width="2" height="27"/><rect x="892" y="746" width="2" height="16"/><rect x="896" y="737" width="2" height="25"/><rect x="901" y="747" width="2" height="15"/><rect x="905" y="743" width="2" height="19"/><rect x="909" y="744" width="2" height="18"/><rect x="914" y="744" width="2" height="18"/><rect x="918" y="746" width="2" height="16"/><rect x="923" y="740" width="2" height="22"/><rect x="927" y="748" width="2" height="14"/><rect x="931" y="746" width="2" height="16"/><rect x="936" y="747" width="2" height="15"/><rect x="940" y="745" width="2" height="17"/><rect x="944" y="745" width="2" height="17"/><rect x="949" y="741" width="2" height="21"/><rect x="953" y="736" width="2" height="26"/><rect x="958" y="739" width="2" height="23"/><rect x="962" y="742" width="2" height="20"/><rect x="966" y="746" width="2" height="16"/><rect x="971" y="741" width="2" height="21"/><rect x="975" y="744" width="2" height="18"/><rect x="980" y="744" width="2" height="18"/><rect x="984" y="740" width="2" height="22"/><rect x="988" y="745" width="2" height="17"/><rect x="993" y="750" width="2" height="12"/><rect x="997" y="749" width="2" height="13"/><rect x="1001" y="748" width="2" height="14"/><rect x="1006" y="744" width="2" height="18"/><rect x="1010" y="745" width="2" height="17"/><rect x="1015" y="748" width="2" height="14"/><rect x="1019" y="743" width="2" height="19"/><rect x="1023" y="750" width="2" height="12"/><rect x="1028" y="759" width="2" height="3"/><rect x="1032" y="745" width="2" height="17"/><rect x="1037" y="747" width="2" height="15"/><rect x="1041" y="746" width="2" height="16"/><rect x="1045" y="743" width="2" height="19"/><rect x="1050" y="745" width="2" height="17"/><rect x="1054" y="748" width="2" height="14"/><rect x="1058" y="746" width="2" height="16"/><rect x="1063" y="746" width="2" height="16"/><rect x="1067" y="748" width="2" height="14"/><rect x="1072" y="750" width="2" height="12"/><rect x="1076" y="742" width="2" height="20"/><rect x="1080" y="750" width="2" height="12"/><rect x="1085" y="749" width="2" height="13"/><rect x="1089" y="744" width="2" height="18"/><rect x="1094" y="729" width="2" height="33"/><rect x="1098" y="737" width="2" height="25"/><rect x="1102" y="735" width="2" height="27"/><rect x="1107" y="744" width="2" height="18"/><rect x="1111" y="750" width="2" height="12"/><rect x="1115" y="750" width="2" height="12"/><rect x="1120" y="746" width="2" height="16"/><rect x="1124" y="745" width="2" height="17"/><rect x="1129" y="741" width="2" height="21"/><rect x="1133" y="745" width="2" height="17"/><rect x="1137" y="746" width="2" height="16"/><rect x="1142" y="742" width="2" height="20"/><rect x="1146" y="743" width="2" height="19"/><rect x="1150" y="750" width="2" height="12"/><rect x="1155" y="746" width="2" height="16"/><rect x="1159" y="742" width="2" height="20"/><rect x="1164" y="747" width="2" height="15"/><rect x="1168" y="740" width="2" height="22"/><rect x="1172" y="750" width="2" height="12"/><rect x="1177" y="750" width="2" height="12"/><rect x="1181" y="751" width="2" height="11"/><rect x="1186" y="748" width="2" height="14"/><rect x="1190" y="748" width="2" height="14"/><rect x="1194" y="748" width="2" height="14"/><rect x="1199" y="745" width="2" height="17"/><rect x="1203" y="749" width="2" height="13"/><rect x="1207" y="747" width="2" height="15"/><rect x="1212" y="744" width="2" height="18"/><rect x="1216" y="738" width="2" height="24"/><rect x="1221" y="745" width="2" height="17"/><rect x="1225" y="749" width="2" height="13"/><rect x="1229" y="742" width="2" height="20"/><rect x="1234" y="743" width="2" height="19"/><rect x="1238" y="741" width="2" height="21"/><rect x="1243" y="737" width="2" height="25"/><rect x="1247" y="724" width="2" height="38"/><rect x="1251" y="731" width="2" height="31"/><rect x="1256" y="725" width="2" height="37"/><rect x="1260" y="715" width="2" height="47"/><rect x="1264" y="721" width="2" height="41"/><rect x="1269" y="700" width="2" height="62"/><rect x="1273" y="722" width="2" height="40"/><rect x="1278" y="735" width="2" height="27"/><rect x="1282" y="732" width="2" height="30"/><rect x="1286" y="725" width="2" height="37"/><rect x="1291" y="700" width="2" height="62"/><rect x="1295" y="725" width="2" height="37"/><rect x="1300" y="727" width="2" height="35"/><rect x="1304" y="712" width="2" height="50"/><rect x="1308" y="725" width="2" height="37"/><rect x="1313" y="723" width="2" height="39"/><rect x="1317" y="736" width="2" height="26"/><rect x="1321" y="721" width="2" height="41"/><rect x="1326" y="734" width="2" height="28"/><rect x="1330" y="712" width="2" height="50"/><rect x="1335" y="714" width="2" height="48"/><rect x="1339" y="725" width="2" height="37"/><rect x="1343" y="730" width="2" height="32"/><rect x="1348" y="722" width="2" height="40"/><rect x="1352" y="724" width="2" height="38"/><rect x="1356" y="731" width="2" height="31"/><rect x="1361" y="721" width="2" height="41"/><rect x="1365" y="732" width="2" height="30"/><rect x="1370" y="734" width="2" height="28"/><rect x="1374" y="736" width="2" height="26"/><rect x="1378" y="734" width="2" height="28"/><rect x="1383" y="722" width="2" height="40"/><rect x="1387" y="715" width="2" height="47"/><rect x="1392" y="733" width="2" height="29"/><rect x="1396" y="738" width="2" height="24"/><rect x="1400" y="737" width="2" height="25"/><rect x="1405" y="737" width="2" height="25"/><rect x="1409" y="735" width="2" height="27"/><rect x="1413" y="737" width="2" height="25"/><rect x="1418" y="740" width="2" height="22"/><rect x="1422" y="734" width="2" height="28"/><rect x="1427" y="728" width="2" height="34"/><rect x="1431" y="727" width="2" height="35"/><rect x="1435" y="731" width="2" height="31"/><rect x="1440" y="729" width="2" height="33"/><rect x="1444" y="735" width="2" height="27"/></g>
<g fill="#000" shape-rendering="crispEdges"><rect x="100" y="765" width="1" height="20"/><rect x="192" y="765" width="1" height="20"/><rect x="284" y="765" width="1" height="20"/><rect x="381" y="765" width="1" height="20"/><rect x="473" y="765" width="1" height="20"/><rect x="569" y="765" width="1" height="20"/><rect x="666" y="765" width="1" height="20"/><rect x="753" y="765" width="1" height="20"/><rect x="841" y="765" width="1" height="20"/><rect x="929" y="765" width="1" height="20"/><rect x="1016" y="765" width="1" height="20"/><rect x="1100" y="765" width="1" height="20"/><rect x="1196" y="765" width="1" height="20"/><rect x="1288" y="765" width="1" height="20"/><rect x="1384" y="765" width="1" height="20"/></g>
<g font-family="Liberation Sans, sans-serif" font-size="12" fill="#111" style="letter-spacing:0.35px"><text x="101" y="780">08-24</text><text x="193" y="780">09-24</text><text x="285" y="780">10-24</text><text x="382" y="780">11-24</text><text x="474" y="780">12-24</text><text x="570" y="780">01-25</text><text x="667" y="780">02-25</text><text x="754" y="780">03-25</text><text x="842" y="780">04-25</text><text x="930" y="780">05-25</text><text x="1017" y="780">06-25</text><text x="1101" y="780">07-25</text><text x="1197" y="780">08-25</text><text x="1289" y="780">09-25</text><text x="1385" y="780">10-25</text></g>
<svg x="1473" y="18" width="59" height="668" viewBox="1473 18 59 668" overflow="hidden"><g font-family="Liberation Sans, sans-serif" font-weight="bold" font-size="12" fill="#000" style="letter-spacing:0.6px"><text x="1483" y="678.2">8800,00</text><text x="1483" y="650.7">9000,00</text><text x="1483" y="623.2">9200,00</text><text x="1483" y="595.7">9400,00</text><text x="1483" y="568.2">9600,00</text><text x="1483" y="540.7">9800,00</text><text x="1483" y="513.2">10000,00</text><text x="1483" y="485.7">10200,00</text><text x="1483" y="458.3">10400,00</text><text x="1483" y="430.8">10600,00</text><text x="1483" y="403.3">10800,00</text><text x="1483" y="375.8">11000,00</text><text x="1483" y="348.3">11200,00</text><text x="1483" y="320.8">11400,00</text><text x="1483" y="293.3">11600,00</text><text x="1483" y="265.8">11800,00</text><text x="1483" y="238.3">12000,00</text><text x="1483" y="210.8">12200,00</text><text x="1483" y="183.4">12400,00</text><text x="1483" y="155.9">12600,00</text><text x="1483" y="128.4">12800,00</text></g></svg>
<rect x="1473" y="307" width="59" height="20" fill="#000"/>
<svg x="1473" y="307" width="59" height="20" viewBox="1473 307 59 20" overflow="hidden"><text x="1483" y="321.5" font-family="Liberation Sans, sans-serif" font-weight="bold" font-size="12" fill="#fff" style="letter-spacing:0.6px">11390,98</text></svg>
<g font-family="Liberation Sans, sans-serif" font-size="12" fill="#fff" style="letter-spacing:0.55px"><rect x="1473" y="468" width="59" height="20" fill="#000"/><svg x="1483" y="468" width="39" height="20" viewBox="1483 468 39 20" overflow="hidden"><text x="1483" y="482.5">10225,00</text></svg><rect x="1473" y="110" width="59" height="20" fill="#000"/><svg x="1483" y="110" width="39" height="20" viewBox="1483 110 39 20" overflow="hidden"><text x="1483" y="124.5">12826,00</text></svg><rect x="1473" y="430" width="59" height="20" fill="#000"/><svg x="1483" y="430" width="39" height="20" viewBox="1483 430 39 20" overflow="hidden"><text x="1483" y="444.5">10500,00</text></svg><rect x="1473" y="316" width="59" height="20" fill="#000"/><svg x="1483" y="316" width="39" height="20" viewBox="1483 316 39 20" overflow="hidden"><text x="1483" y="330.5">11325,00</text></svg><rect x="1473" y="388" width="59" height="20" fill="#000"/><svg x="1483" y="388" width="39" height="20" viewBox="1483 388 39 20" overflow="hidden"><text x="1483" y="402.5">10800,00</text></svg><rect x="1473" y="492" width="59" height="20" fill="#000"/><svg x="1483" y="492" width="39" height="20" viewBox="1483 492 39 20" overflow="hidden"><text x="1483" y="506.5">10050,00</text></svg><rect x="1473" y="574" width="59" height="20" fill="#000"/><svg x="1483" y="574" width="39" height="20" viewBox="1483 574 39 20" overflow="hidden"><text x="1483" y="588.5">9450,00</text></svg><rect x="1473" y="242" width="59" height="20" fill="#000"/><svg x="1483" y="242" width="39" height="20" viewBox="1483 242 39 20" overflow="hidden"><text x="1483" y="256.5">11870,00</text></svg><rect x="1473" y="361" width="59" height="20" fill="#000"/><svg x="1483" y="361" width="39" height="20" viewBox="1483 361 39 20" overflow="hidden"><text x="1483" y="375.5">11000,00</text></svg><rect x="1473" y="516" width="59" height="20" fill="#000"/><svg x="1483" y="516" width="39" height="20" viewBox="1483 516 39 20" overflow="hidden"><text x="1483" y="530.5">9870,00</text></svg><rect x="1473" y="636" width="59" height="20" fill="#000"/><svg x="1483" y="636" width="39" height="20" viewBox="1483 636 39 20" overflow="hidden"><text x="1483" y="650.5">9000,00</text></svg><rect x="1473" y="220" width="59" height="20" fill="#000"/><svg x="1483" y="220" width="39" height="20" viewBox="1483 220 39 20" overflow="hidden"><text x="1483" y="234.5">12030,00</text></svg><rect x="1473" y="141" width="59" height="20" fill="#000"/><svg x="1483" y="141" width="39" height="20" viewBox="1483 141 39 20" overflow="hidden"><text x="1483" y="155.5">12600,00</text></svg><rect x="1473" y="275" width="59" height="20" fill="#000"/><svg x="1483" y="275" width="39" height="20" viewBox="1483 275 39 20" overflow="hidden"><text x="1483" y="289.5">11630,00</text></svg><rect x="1473" y="182" width="59" height="20" fill="#000"/><svg x="1483" y="182" width="39" height="20" viewBox="1483 182 39 20" overflow="hidden"><text x="1483" y="196.5">12301,00</text></svg></g>
<g font-family="Liberation Sans, sans-serif" font-weight="bold" font-size="12" fill="#000" style="letter-spacing:0.55px"><text x="1482" y="715.3">6.00Mr</text><text x="1482" y="732.5">4.00Mr</text><text x="1482" y="749.5">2.00Mr</text></g>
<g font-family="Liberation Sans, sans-serif" font-weight="bold" font-size="13" fill="#000"><text x="346.5" y="37" fill="#ff0000">MOV( 66 )</text><text x="424.3" y="37" fill="#ff0000">: 11.772,44</text><g transform="translate(519.5,33)"><circle r="3.6" fill="#d8a800" stroke="#5a4a10" stroke-width="0.6"/><path d="M-2.6,-0.6 L-0.3,3.4 L3.6,-4.8" fill="none" stroke="#000" stroke-width="2"/></g><text x="346.5" y="51" fill="#0000ff">MOV( 200 )</text><text x="424.3" y="51" fill="#0000ff">: 11.287,61</text><g transform="translate(519.5,47)"><circle r="3.6" fill="#d8a800" stroke="#5a4a10" stroke-width="0.6"/><path d="M-2.6,-0.6 L-0.3,3.4 L3.6,-4.8" fill="none" stroke="#000" stroke-width="2"/></g><text x="346.5" y="65" fill="#000">HLine</text><text x="424.3" y="65" fill="#000">: 10225,00</text><g transform="translate(519.5,61)"><circle r="3.6" fill="#d8a800" stroke="#5a4a10" stroke-width="0.6"/><path d="M-2.6,-0.6 L-0.3,3.4 L3.6,-4.8" fill="none" stroke="#000" stroke-width="2"/></g><text x="346.5" y="79" fill="#000">HLine</text><text x="424.3" y="79" fill="#000">: 12826,00</text><g transform="translate(519.5,75)"><circle r="3.6" fill="#d8a800" stroke="#5a4a10" stroke-width="0.6"/><path d="M-2.6,-0.6 L-0.3,3.4 L3.6,-4.8" fill="none" stroke="#000" stroke-width="2"/></g><text x="346.5" y="93" fill="#000">HLine</text><text x="424.3" y="93" fill="#000">: 10500,00</text><g transform="translate(519.5,89)"><circle r="3.6" fill="#d8a800" stroke="#5a4a10" stroke-width="0.6"/><path d="M-2.6,-0.6 L-0.3,3.4 L3.6,-4.8" fill="none" stroke="#000" stroke-width="2"/></g><text x="346.5" y="107" fill="#000">HLine</text><text x="424.3" y="107" fill="#000">: 11325,00</text><g transform="translate(519.5,103)"><circle r="3.6" fill="#d8a800" stroke="#5a4a10" stroke-width="0.6"/><path d="M-2.6,-0.6 L-0.3,3.4 L3.6,-4.8" fill="none" stroke="#000" stroke-width="2"/></g><text x="346.5" y="121" fill="#000">HLine</text><text x="424.3" y="121" fill="#000">: 10800,00</text><g transform="translate(519.5,117)"><circle r="3.6" fill="#d8a800" stroke="#5a4a10" stroke-width="0.6"/><path d="M-2.6,-0.6 L-0.3,3.4 L3.6,-4.8" fill="none" stroke="#000" stroke-width="2"/></g><text x="346.5" y="135" fill="#000">HLine</text><text x="424.3" y="135" fill="#000">: 10050,00</text><g transform="translate(519.5,131)"><circle r="3.6" fill="#d8a800" stroke="#5a4a10" stroke-width="0.6"/><path d="M-2.6,-0.6 L-0.3,3.4 L3.6,-4.8" fill="none" stroke="#000" stroke-width="2"/></g><text x="346.5" y="149" fill="#000">HLine</text><text x="424.3" y="149" fill="#000">: 9450,00</text><g transform="translate(519.5,145)"><circle r="3.6" fill="#d8a800" stroke="#5a4a10" stroke-width="0.6"/><path d="M-2.6,-0.6 L-0.3,3.4 L3.6,-4.8" fill="none" stroke="#000" stroke-width="2"/></g><text x="346.5" y="163" fill="#000">HLine</text><text x="424.3" y="163" fill="#000">: 11870,00</text><g transform="translate(519.5,159)"><circle r="3.6" fill="#d8a800" stroke="#5a4a10" stroke-width="0.6"/><path d="M-2.6,-0.6 L-0.3,3.4 L3.6,-4.8" fill="none" stroke="#000" stroke-width="2"/></g><text x="346.5" y="177" fill="#000">HLine</text><text x="424.3" y="177" fill="#000">: 11000,00</text><g transform="translate(519.5,173)"><circle r="3.6" fill="#d8a800" stroke="#5a4a10" stroke-width="0.6"/><path d="M-2.6,-0.6 L-0.3,3.4 L3.6,-4.8" fill="none" stroke="#000" stroke-width="2"/></g><text x="346.5" y="191" fill="#000">HLine</text><text x="424.3" y="191" fill="#000">: 9870,00</text><g transform="translate(519.5,187)"><circle r="3.6" fill="#d8a800" stroke="#5a4a10" stroke-width="0.6"/><path d="M-2.6,-0.6 L-0.3,3.4 L3.6,-4.8" fill="none" stroke="#000" stroke-width="2"/></g><text x="346.5" y="205" fill="#000">HLine</text><text x="424.3" y="205" fill="#000">: 9000,00</text><g transform="translate(519.5,201)"><circle r="3.6" fill="#d8a800" stroke="#5a4a10" stroke-width="0.6"/><path d="M-2.6,-0.6 L-0.3,3.4 L3.6,-4.8" fill="none" stroke="#000" stroke-width="2"/></g><text x="346.5" y="219" fill="#000">HLine</text><text x="424.3" y="219" fill="#000">: 12030,00</text><g transform="translate(519.5,215)"><circle r="3.6" fill="#d8a800" stroke="#5a4a10" stroke-width="0.6"/><path d="M-2.6,-0.6 L-0.3,3.4 L3.6,-4.8" fill="none" stroke="#000" stroke-width="2"/></g><text x="346.5" y="233" fill="#000">HLine</text><text x="424.3" y="233" fill="#000">: 12600,00</text><g transform="translate(519.5,229)"><circle r="3.6" fill="#d8a800" stroke="#5a4a10" stroke-width="0.6"/><path d="M-2.6,-0.6 L-0.3,3.4 L3.6,-4.8" fill="none" stroke="#000" stroke-width="2"/></g><text x="346.5" y="247" fill="#000">HLine</text><text x="424.3" y="247" fill="#000">: 11630,00</text><g transform="translate(519.5,243)"><circle r="3.6" fill="#d8a800" stroke="#5a4a10" stroke-width="0.6"/><path d="M-2.6,-0.6 L-0.3,3.4 L3.6,-4.8" fill="none" stroke="#000" stroke-width="2"/></g><text x="346.5" y="261" fill="#000">HLine</text><text x="424.3" y="261" fill="#000">: 12301,00</text><g transform="translate(519.5,257)"><circle r="3.6" fill="#d8a800" stroke="#5a4a10" stroke-width="0.6"/><path d="M-2.6,-0.6 L-0.3,3.4 L3.6,-4.8" fill="none" stroke="#000" stroke-width="2"/></g><text x="557" y="78.5">21.10.2025</text><text x="557" y="92.5">XU030</text><text x="557" y="106.5">Açılış</text><text x="635.5" y="106.5">11421,43</text><text x="557" y="120.5">Yüksek</text><text x="635.5" y="120.5">11467,85</text><text x="557" y="134.5">Düşük</text><text x="635.5" y="134.5">11332,62</text><text x="557" y="148.5">Kapanış</text><text x="635.5" y="148.5">11390,98</text><text x="557" y="162.5">Ö.Kap.Fark</text><text x="635.5" y="162.5">-21,13</text><text x="557" y="176.5">Miktar</text><text x="635.5" y="176.5">3280713786,00</text><text x="557" y="190.5">Değer</text><text x="635.5" y="190.5">13103,14</text><text x="6" y="699" fill="#ff0000">VOL (Lot)</text><text x="76.5" y="699" fill="#ff0000" style="letter-spacing:0.17px">: 3.280.713.728,00</text><g transform="translate(227.5,695)"><circle r="3.6" fill="#d8a800" stroke="#5a4a10" stroke-width="0.6"/><path d="M-2.6,-0.6 L-0.3,3.4 L3.6,-4.8" fill="none" stroke="#000" stroke-width="2"/></g></g>
<rect x="1457.5" y="19.5" width="14" height="9" rx="3" fill="#f4e08c" stroke="#e0c860"/><text x="1464.5" y="26.8" text-anchor="middle" font-family="Liberation Sans, sans-serif" font-size="9" fill="#222">[ ]</text>
<rect x="1442.5" y="689.5" width="14" height="9" rx="3" fill="#f4e08c" stroke="#e0c860"/><text x="1449.5" y="696.8" text-anchor="middle" font-family="Liberation Sans, sans-serif" font-size="9" fill="#222">[ ]</text>
<rect x="1457.5" y="689.5" width="14" height="9" rx="3" fill="#f4e08c" stroke="#e0c860"/><text x="1464.5" y="696.8" text-anchor="middle" font-family="Liberation Sans, sans-serif" font-size="9" fill="#222">x</text>
<defs>
<linearGradient id="gBlue" x1="0" y1="0" x2="0" y2="1">
 <stop offset="0" stop-color="#4646ff"/><stop offset="0.5" stop-color="#2828c0"/>
 <stop offset="0.86" stop-color="#0c0c72"/><stop offset="0.93" stop-color="#000058"/><stop offset="1" stop-color="#000050"/></linearGradient>
<linearGradient id="gGray" x1="0" y1="0" x2="0" y2="1">
 <stop offset="0" stop-color="#8a8a8a"/><stop offset="0.15" stop-color="#a8a8a8"/><stop offset="0.45" stop-color="#f6f6f6"/>
 <stop offset="0.6" stop-color="#f0f0f0"/><stop offset="0.85" stop-color="#b0b0b0"/><stop offset="1" stop-color="#8c8c8c"/></linearGradient>
<linearGradient id="gBtn" x1="0" y1="0" x2="0" y2="1">
 <stop offset="0" stop-color="#7c7cd0"/><stop offset="0.5" stop-color="#5050b4"/><stop offset="1" stop-color="#4848a8"/></linearGradient>
<linearGradient id="gClose" x1="0" y1="0" x2="0" y2="1">
 <stop offset="0" stop-color="#8a7cc0"/><stop offset="0.5" stop-color="#5e3c80"/><stop offset="1" stop-color="#6c5a9c"/></linearGradient>
</defs>
<rect x="18" y="4" width="990" height="14" fill="url(#gBlue)"/>
<rect x="1008" y="3" width="468" height="15" fill="url(#gGray)"/>
<rect x="4.5" y="4.5" width="13" height="13" fill="url(#gClose)" stroke="#702040"/>
<path d="M8.6,8.6 L13.4,13.4 M13.4,8.6 L8.6,13.4" stroke="#fff" stroke-width="1.8"/>
<rect x="1476" y="4" width="42" height="14" fill="url(#gBtn)"/>
<rect x="1489" y="4" width="1" height="14" fill="#3a3a9a"/><rect x="1503" y="4" width="1" height="14" fill="#3a3a9a"/>
<rect x="1518.5" y="4.5" width="13" height="13" fill="url(#gClose)" stroke="#702040"/>
<rect x="1480" y="10" width="6" height="2" fill="#fff"/>
<rect x="1494.5" y="12" width="4.5" height="2" fill="#fff"/>
<path d="M1508,11 h6 M1511,8 v6" stroke="#fff" stroke-width="1.8"/>
<path d="M1522.3,8.6 L1527.3,13.6 M1527.3,8.6 L1522.3,13.6" stroke="#fff" stroke-width="1.8"/>
<text x="20" y="14.1" font-family="Liberation Sans, sans-serif" font-weight="bold" font-size="10" fill="#fff" style="letter-spacing:0.53px">XU030 BIST 30 - 1 Günlük (.1d)</text>
<g font-family="Liberation Sans, sans-serif" font-size="9" fill="#1a1a1a"><text x="1159.5" y="14">1 Günlük</text><text x="1228.3" y="14" textLength="19" lengthAdjust="spacingAndGlyphs">MUM</text><text x="1293" y="14">TL</text><text x="1350" y="14">LIN</text><text x="1409.3" y="14">IND</text></g>
<text x="1053.5" y="13" font-family="Liberation Sans, sans-serif" font-size="6" fill="#888" textLength="20" lengthAdjust="spacingAndGlyphs">Forinvest</text>
<g>
<defs><linearGradient id="gGr" x1="0" x2="1"><stop offset="0" stop-color="#d8f0d8"/><stop offset="1" stop-color="#58b058"/></linearGradient>
<linearGradient id="gRd" x1="0" x2="1"><stop offset="0" stop-color="#fcd8d8"/><stop offset="1" stop-color="#f04848"/></linearGradient></defs>
<rect x="1010" y="6" width="11" height="11" fill="url(#gGr)"/>
<path d="M1010,6 h3 l-3,3 z" fill="#202020"/>
<g stroke="#6a4a10" stroke-width="0.6"><ellipse cx="1015.2" cy="8.3" rx="2.6" ry="1.3" fill="#f0c838"/><ellipse cx="1014.8" cy="11.2" rx="2.6" ry="1.3" fill="#e8b828"/><ellipse cx="1015.4" cy="14.6" rx="2.8" ry="1.4" fill="#d8a018"/></g>
<rect x="1024" y="6" width="11" height="10.5" fill="url(#gRd)"/>
<path d="M1035,16.5 v-4 l-3,4 z" fill="#e00000"/>
<g stroke="#6a4a10" stroke-width="0.6"><ellipse cx="1029.2" cy="8.6" rx="2.5" ry="1.3" fill="#f0c838"/><ellipse cx="1028.6" cy="11.4" rx="2.7" ry="1.3" fill="#e0b030"/><ellipse cx="1029.2" cy="14.3" rx="2.6" ry="1.3" fill="#d8a018"/></g>
<path d="M1042,15 V8 H1049 M1049,12 V14 H1046" fill="none" stroke="#303038" stroke-width="1.8"/>
<rect x="1080.5" y="5.5" width="10" height="11" fill="#c8d8f0" stroke="#8098c0"/>
<circle cx="1082.5" cy="8" r="1" fill="#2030c0"/><circle cx="1082.5" cy="11" r="1" fill="#e03030"/><circle cx="1082.5" cy="14" r="1" fill="#e0c020"/>
<rect x="1084.5" y="10" width="3" height="2" fill="#203080"/>
<rect x="1093.5" y="5.5" width="11" height="5" fill="#e8f0ff" stroke="#4878d8"/><path d="M1094,9.5 l2,-1 2,1 2,-2 2,1 2,-2" fill="none" stroke="#e02020"/>
<rect x="1093" y="11" width="10" height="5.5" fill="#e8f0ff" stroke="#4878d8"/><path d="M1094,14.5 l2,-1 2,1 2,-1 2,1" fill="none" stroke="#20a020"/>
<path d="M1108.5,16 L1117.5,6.5" stroke="#20a030" stroke-width="3"/><path d="M1116.5,5.5 L1118.8,7.8" stroke="#e05050" stroke-width="2"/><path d="M1107.5,17 L1109.2,15.3" stroke="#602010" stroke-width="1.5"/>
<path d="M1126.5,5.5 L1132,11 L1126.5,16.5 L1121,11 Z" fill="#5890e8"/><path d="M1126.5,8.5 L1129,11 L1126.5,13.5 L1124,11 Z" fill="#e8f0ff"/>
<path d="M1135,11 h3 l1.5,3 l2,-7 l1.5,6 l1,-2 h2" fill="none" stroke="#7080a0" stroke-width="1"/>
<path d="M1452.5,14.5 L1458.5,8.5 M1455,7.5 h4.5 v4.5" fill="none" stroke="#3a80f0" stroke-width="2.2"/>
<path d="M1473.8,6 L1464.2,16.6" stroke="#808080" stroke-width="2.4"/><path d="M1473.8,6 L1464.2,16.6" stroke="#f4f4f4" stroke-width="1.2"/><path d="M1464,6 L1469,11" stroke="#909090" stroke-width="2"/><path d="M1469,11 L1474.6,16.8" stroke="#d83030" stroke-width="2.4"/>
</g>
</svg>
</body></html>
